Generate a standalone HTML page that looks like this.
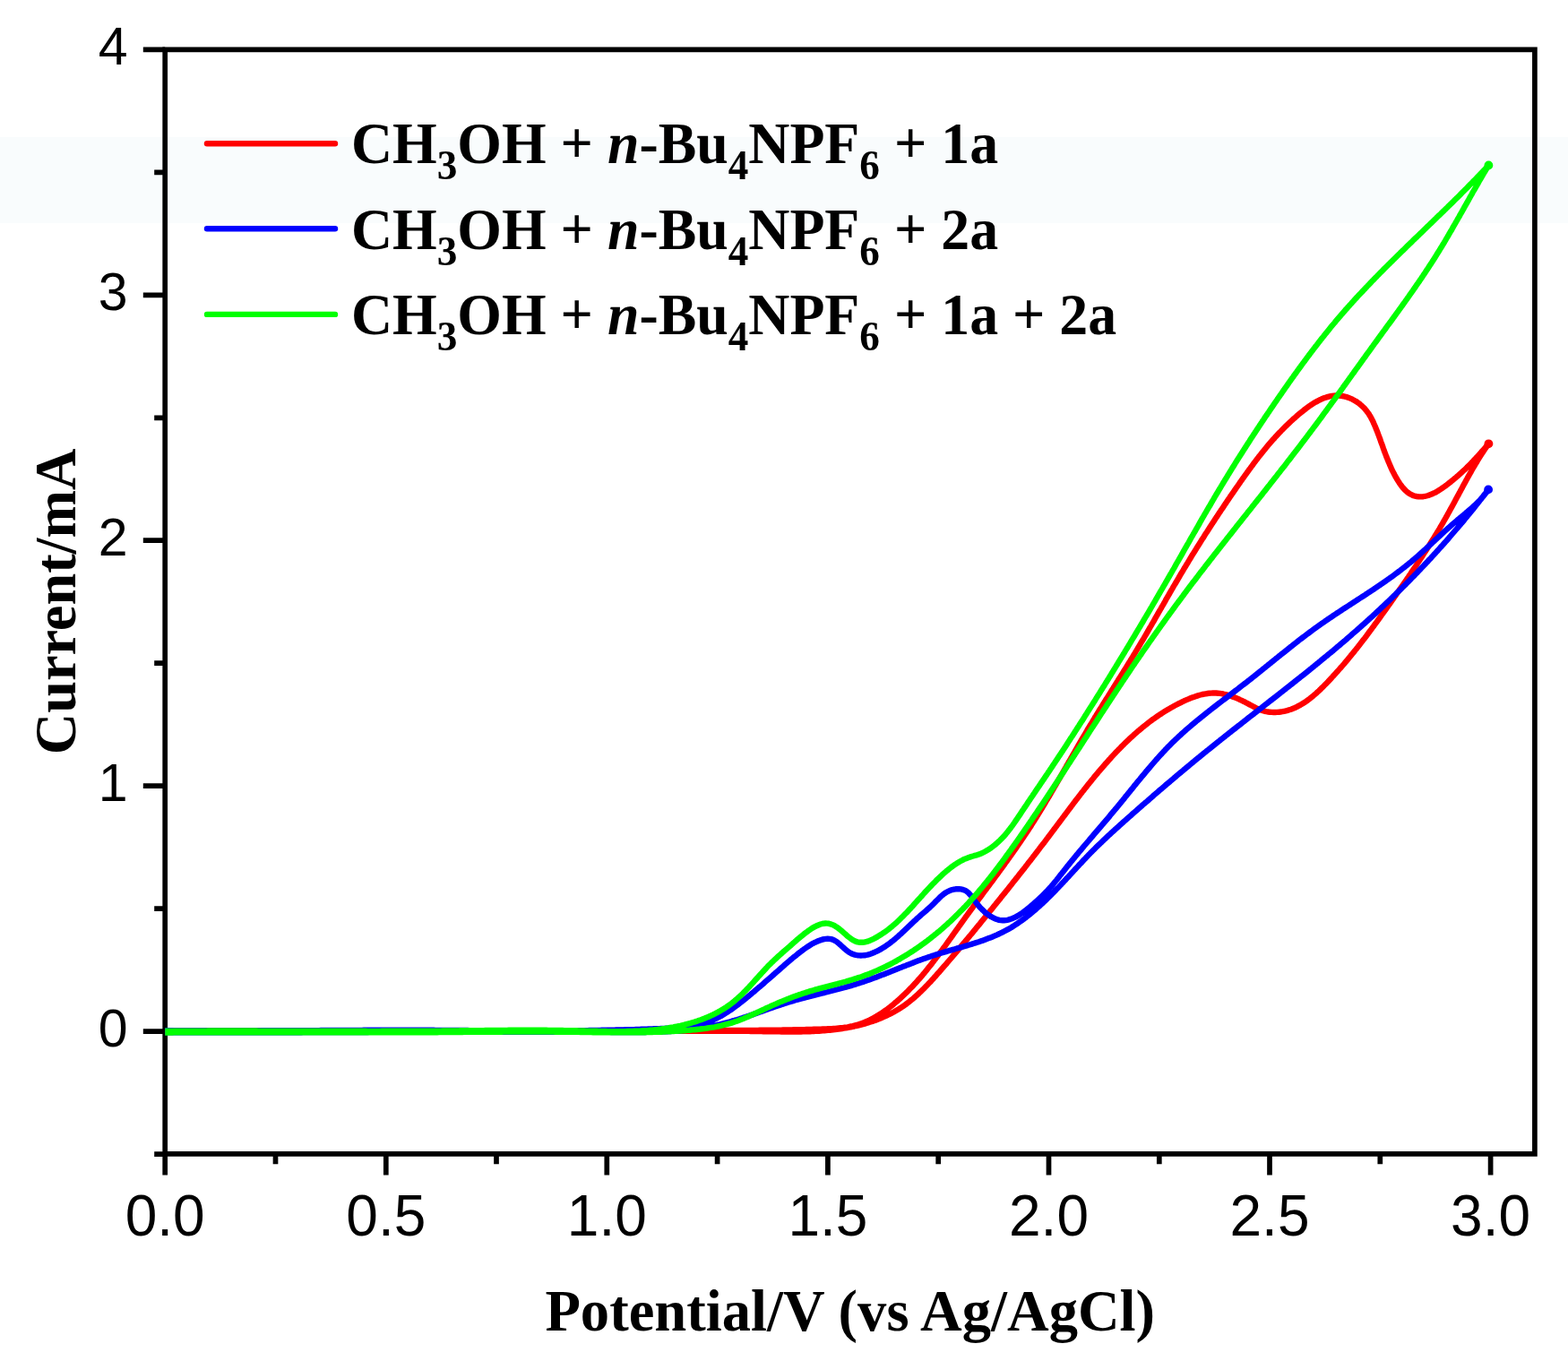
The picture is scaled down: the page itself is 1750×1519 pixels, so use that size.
<!DOCTYPE html>
<html><head><meta charset="utf-8"><style>
html,body{margin:0;padding:0;background:#fff;}
svg{display:block;}
.yl{font-family:"Liberation Sans",Arial,sans-serif;font-size:59px;text-anchor:end;fill:#000;}
.xl{font-family:"Liberation Sans",Arial,sans-serif;font-size:64px;text-anchor:middle;fill:#000;}
.lg{font-family:"Liberation Serif","Times New Roman",serif;font-size:65px;font-weight:bold;fill:#000;}
.sub{font-size:46px;}
.tt{font-family:"Liberation Serif","Times New Roman",serif;font-size:66px;font-weight:bold;fill:#000;}
</style></head><body>
<svg width="1750" height="1519" viewBox="0 0 1750 1519" xmlns="http://www.w3.org/2000/svg">
<rect width="1750" height="1519" fill="#ffffff"/>
<rect x="0" y="153" width="1750" height="96" fill="#f9fcfd"/>
<defs><clipPath id="pc"><rect x="184.2" y="0" width="1600" height="1519"/></clipPath></defs>
<path d="M184.2 55.3 H1712.9 V1287.8 H184.2 Z" fill="none" stroke="#000" stroke-width="5.7" stroke-linejoin="miter"/>
<path d="M184.2 1288.2H172.2M184.2 1151.2H159.8M184.2 1014.2H172.2M184.2 877.2H159.8M184.2 740.2H172.2M184.2 603.2H159.8M184.2 466.3H172.2M184.2 329.3H159.8M184.2 192.3H172.2M184.2 55.3H159.8M184.2 1287.8V1311.5M307.5 1287.8V1299.2M430.8 1287.8V1311.5M554.0 1287.8V1299.2M677.3 1287.8V1311.5M800.6 1287.8V1299.2M923.9 1287.8V1311.5M1047.2 1287.8V1299.2M1170.5 1287.8V1311.5M1293.8 1287.8V1299.2M1417.0 1287.8V1311.5M1540.3 1287.8V1299.2M1663.6 1287.8V1311.5" stroke="#000" stroke-width="5.7" fill="none"/>
<text x="142.5" y="1167.8" class="yl">0</text>
<text x="142.5" y="893.8" class="yl">1</text>
<text x="142.5" y="619.9" class="yl">2</text>
<text x="142.5" y="345.9" class="yl">3</text>
<text x="142.5" y="71.9" class="yl">4</text>
<text x="184.2" y="1378.6" class="xl">0.0</text>
<text x="430.8" y="1378.6" class="xl">0.5</text>
<text x="677.3" y="1378.6" class="xl">1.0</text>
<text x="923.9" y="1378.6" class="xl">1.5</text>
<text x="1170.5" y="1378.6" class="xl">2.0</text>
<text x="1417.0" y="1378.6" class="xl">2.5</text>
<text x="1663.6" y="1378.6" class="xl">3.0</text>
<path d="M184.2 1150.6 L186.2 1150.6 L188.2 1150.6 L190.2 1150.6 L192.2 1150.6 L194.2 1150.6 L196.2 1150.6 L198.2 1150.6 L200.2 1150.6 L202.2 1150.6 L204.2 1150.6 L206.2 1150.6 L208.2 1150.6 L210.2 1150.6 L212.2 1150.6 L214.2 1150.6 L216.2 1150.6 L218.2 1150.6 L220.2 1150.6 L222.2 1150.6 L224.2 1150.6 L226.2 1150.6 L228.2 1150.6 L230.2 1150.5 L232.2 1150.5 L234.2 1150.5 L236.2 1150.5 L238.2 1150.5 L240.2 1150.5 L242.2 1150.5 L244.2 1150.5 L246.2 1150.5 L248.2 1150.5 L250.2 1150.5 L252.2 1150.5 L254.2 1150.5 L256.2 1150.5 L258.2 1150.5 L260.2 1150.5 L262.2 1150.5 L264.2 1150.5 L266.2 1150.5 L268.2 1150.5 L270.2 1150.5 L272.2 1150.5 L274.2 1150.5 L276.2 1150.5 L278.2 1150.5 L280.2 1150.5 L282.2 1150.5 L284.2 1150.5 L286.2 1150.5 L288.2 1150.5 L290.2 1150.5 L292.2 1150.5 L294.2 1150.5 L296.2 1150.5 L298.2 1150.5 L300.2 1150.5 L302.2 1150.5 L304.2 1150.5 L306.2 1150.5 L308.2 1150.5 L310.2 1150.5 L312.2 1150.5 L314.2 1150.5 L316.2 1150.5 L318.2 1150.5 L320.2 1150.5 L322.2 1150.5 L324.2 1150.5 L326.2 1150.5 L328.2 1150.5 L330.2 1150.5 L332.2 1150.5 L334.2 1150.5 L336.2 1150.5 L338.2 1150.5 L340.2 1150.5 L342.2 1150.5 L344.2 1150.5 L346.2 1150.5 L348.2 1150.5 L350.2 1150.5 L352.2 1150.5 L354.2 1150.5 L356.1 1150.5 L358.1 1150.5 L360.1 1150.5 L362.1 1150.5 L364.1 1150.5 L366.1 1150.5 L368.1 1150.5 L370.1 1150.5 L372.1 1150.5 L374.1 1150.5 L376.1 1150.5 L378.1 1150.5 L380.1 1150.5 L382.1 1150.5 L384.1 1150.5 L386.1 1150.5 L388.1 1150.5 L390.1 1150.5 L392.1 1150.5 L394.1 1150.5 L396.1 1150.5 L398.1 1150.5 L400.1 1150.5 L402.1 1150.5 L404.1 1150.5 L406.1 1150.5 L408.1 1150.5 L410.1 1150.5 L412.1 1150.5 L414.1 1150.5 L416.1 1150.5 L418.1 1150.5 L420.1 1150.5 L422.1 1150.5 L424.1 1150.5 L426.1 1150.5 L428.1 1150.5 L430.1 1150.5 L432.1 1150.5 L434.1 1150.5 L436.1 1150.5 L438.1 1150.5 L440.1 1150.5 L442.1 1150.5 L444.1 1150.5 L446.1 1150.5 L448.1 1150.5 L450.1 1150.5 L452.1 1150.5 L454.1 1150.5 L456.1 1150.5 L458.1 1150.5 L460.1 1150.5 L462.1 1150.5 L464.1 1150.5 L466.1 1150.4 L468.1 1150.4 L470.1 1150.4 L472.1 1150.4 L474.1 1150.4 L476.1 1150.4 L478.1 1150.4 L480.1 1150.4 L482.1 1150.4 L484.1 1150.4 L486.1 1150.4 L488.1 1150.4 L490.1 1150.4 L492.1 1150.4 L494.1 1150.4 L496.1 1150.4 L498.1 1150.4 L500.1 1150.4 L502.1 1150.4 L504.1 1150.4 L506.1 1150.4 L508.1 1150.4 L510.1 1150.4 L512.1 1150.4 L514.1 1150.4 L516.1 1150.4 L518.1 1150.4 L520.1 1150.4 L522.1 1150.4 L524.1 1150.4 L526.1 1150.4 L528.1 1150.4 L530.1 1150.4 L532.1 1150.4 L534.1 1150.4 L536.1 1150.4 L538.1 1150.4 L540.1 1150.4 L542.1 1150.4 L544.1 1150.4 L546.1 1150.4 L548.1 1150.4 L550.1 1150.4 L552.1 1150.4 L554.1 1150.3 L556.1 1150.3 L558.1 1150.3 L560.1 1150.3 L562.1 1150.3 L564.1 1150.3 L566.1 1150.3 L568.1 1150.3 L570.1 1150.3 L572.1 1150.3 L574.1 1150.3 L576.1 1150.3 L578.1 1150.3 L580.1 1150.3 L582.1 1150.3 L584.1 1150.3 L586.1 1150.3 L588.1 1150.3 L590.1 1150.3 L592.1 1150.3 L594.1 1150.3 L596.1 1150.3 L598.1 1150.3 L600.1 1150.3 L602.1 1150.3 L604.1 1150.3 L606.1 1150.3 L608.1 1150.3 L610.1 1150.3 L612.1 1150.3 L614.1 1150.3 L616.1 1150.3 L618.1 1150.2 L620.1 1150.2 L622.1 1150.2 L624.1 1150.2 L626.1 1150.2 L628.1 1150.2 L630.1 1150.2 L632.1 1150.2 L634.1 1150.2 L636.1 1150.2 L638.1 1150.2 L640.1 1150.2 L642.1 1150.2 L644.1 1150.2 L646.1 1150.2 L648.1 1150.2 L650.1 1150.2 L652.1 1150.2 L654.1 1150.2 L656.1 1150.2 L658.1 1150.2 L660.1 1150.2 L662.1 1150.2 L664.1 1150.2 L666.1 1150.2 L668.1 1150.2 L670.1 1150.2 L672.1 1150.2 L674.1 1150.2 L676.1 1150.2 L678.1 1150.2 L680.1 1150.2 L682.1 1150.2 L684.1 1150.2 L686.1 1150.1 L688.1 1150.1 L690.1 1150.1 L692.1 1150.1 L694.1 1150.1 L696.1 1150.1 L698.1 1150.1 L700.1 1150.1 L702.1 1150.1 L704.1 1150.1 L706.1 1150.1 L708.1 1150.1 L710.1 1150.1 L712.1 1150.1 L714.1 1150.1 L716.1 1150.1 L718.1 1150.1 L720.1 1150.1 L722.1 1150.1 L724.1 1150.1 L726.1 1150.1 L728.1 1150.1 L730.1 1150.1 L732.1 1150.1 L734.1 1150.1 L736.1 1150.1 L738.1 1150.1 L740.1 1150.1 L742.1 1150.1 L744.1 1150.1 L746.0 1150.1 L748.0 1150.1 L750.0 1150.1 L752.0 1150.1 L754.0 1150.1 L756.0 1150.1 L758.0 1150.1 L760.0 1150.1 L762.0 1150.1 L764.0 1150.1 L766.0 1150.1 L768.0 1150.1 L770.0 1150.1 L772.0 1150.1 L774.0 1150.1 L776.0 1150.1 L778.0 1150.1 L780.0 1150.1 L782.0 1150.1 L784.0 1150.1 L786.0 1150.1 L788.0 1150.1 L790.0 1150.1 L792.0 1150.1 L794.0 1150.1 L796.0 1150.1 L798.0 1150.1 L800.0 1150.1 L802.0 1150.1 L804.0 1150.0 L806.0 1150.0 L808.0 1150.0 L809.9 1150.0 L811.9 1150.0 L813.9 1150.0 L815.9 1150.0 L817.9 1150.0 L819.9 1150.0 L821.9 1150.0 L823.9 1150.0 L825.9 1150.0 L827.9 1150.0 L829.9 1150.0 L831.9 1150.0 L833.9 1149.9 L835.9 1149.9 L837.9 1149.9 L839.9 1149.9 L841.9 1149.9 L843.9 1149.9 L845.9 1149.9 L847.9 1149.8 L849.9 1149.8 L851.9 1149.8 L853.9 1149.8 L855.9 1149.8 L857.9 1149.7 L859.9 1149.7 L861.9 1149.7 L863.9 1149.7 L865.9 1149.7 L867.9 1149.6 L869.9 1149.6 L871.9 1149.6 L874.0 1149.5 L876.0 1149.5 L878.0 1149.5 L880.0 1149.4 L882.0 1149.4 L884.0 1149.4 L886.0 1149.3 L888.0 1149.3 L890.0 1149.3 L892.0 1149.2 L894.0 1149.2 L896.0 1149.1 L898.0 1149.1 L900.0 1149.0 L902.0 1149.0 L904.1 1148.9 L906.1 1148.9 L908.1 1148.8 L910.1 1148.8 L912.1 1148.7 L914.1 1148.7 L916.1 1148.6 L918.1 1148.5 L920.2 1148.5 L922.2 1148.4 L924.2 1148.3 L926.2 1148.2 L928.2 1148.1 L930.2 1148.0 L932.2 1147.9 L934.2 1147.7 L936.2 1147.5 L938.1 1147.3 L940.1 1147.1 L942.1 1146.8 L944.0 1146.6 L946.0 1146.3 L947.9 1145.9 L949.9 1145.5 L951.8 1145.1 L953.7 1144.6 L955.6 1144.1 L957.5 1143.6 L959.3 1143.0 L961.2 1142.4 L963.0 1141.7 L964.9 1141.0 L966.7 1140.2 L968.5 1139.4 L970.3 1138.6 L972.1 1137.7 L973.8 1136.8 L975.6 1135.8 L977.3 1134.9 L979.0 1133.8 L980.7 1132.8 L982.4 1131.7 L984.1 1130.6 L985.8 1129.5 L987.4 1128.3 L989.1 1127.2 L990.7 1126.0 L992.3 1124.7 L993.9 1123.5 L995.5 1122.2 L997.1 1120.9 L998.6 1119.6 L1000.2 1118.3 L1001.7 1117.0 L1003.2 1115.7 L1004.7 1114.3 L1006.2 1112.9 L1007.6 1111.6 L1009.1 1110.2 L1010.5 1108.8 L1012.0 1107.4 L1013.4 1106.0 L1014.8 1104.5 L1016.2 1103.1 L1017.6 1101.7 L1019.0 1100.2 L1020.3 1098.8 L1021.7 1097.3 L1023.0 1095.8 L1024.3 1094.3 L1025.7 1092.8 L1027.0 1091.3 L1028.3 1089.8 L1029.6 1088.3 L1030.8 1086.8 L1032.1 1085.3 L1033.4 1083.7 L1034.6 1082.2 L1035.9 1080.6 L1037.1 1079.1 L1038.4 1077.5 L1039.6 1076.0 L1040.8 1074.4 L1042.0 1072.8 L1043.2 1071.2 L1044.4 1069.7 L1045.6 1068.1 L1046.8 1066.5 L1048.0 1064.9 L1049.2 1063.3 L1050.4 1061.7 L1051.6 1060.1 L1052.7 1058.5 L1053.9 1056.9 L1055.1 1055.3 L1056.2 1053.7 L1057.4 1052.0 L1058.6 1050.4 L1059.7 1048.8 L1060.9 1047.2 L1062.0 1045.6 L1063.2 1044.0 L1064.3 1042.3 L1065.5 1040.7 L1066.6 1039.1 L1067.8 1037.5 L1069.0 1035.8 L1070.1 1034.2 L1071.3 1032.6 L1072.4 1031.0 L1073.6 1029.4 L1074.7 1027.8 L1075.9 1026.2 L1077.1 1024.5 L1078.2 1022.9 L1079.4 1021.3 L1080.6 1019.7 L1081.7 1018.1 L1082.9 1016.5 L1084.1 1014.9 L1085.3 1013.3 L1086.4 1011.7 L1087.6 1010.1 L1088.8 1008.5 L1090.0 1006.9 L1091.1 1005.3 L1092.3 1003.7 L1093.5 1002.1 L1094.7 1000.5 L1095.9 998.9 L1097.0 997.3 L1098.2 995.7 L1099.4 994.1 L1100.6 992.5 L1101.8 990.9 L1103.0 989.3 L1104.1 987.8 L1105.3 986.2 L1106.5 984.6 L1107.7 983.0 L1108.9 981.4 L1110.0 979.8 L1111.2 978.2 L1112.4 976.6 L1113.6 975.0 L1114.7 973.4 L1115.9 971.8 L1117.1 970.2 L1118.2 968.6 L1119.4 967.0 L1120.6 965.4 L1121.7 963.7 L1122.9 962.1 L1124.1 960.5 L1125.2 958.9 L1126.4 957.3 L1127.5 955.7 L1128.7 954.1 L1129.8 952.4 L1131.0 950.8 L1132.1 949.2 L1133.2 947.6 L1134.4 945.9 L1135.5 944.3 L1136.6 942.7 L1137.8 941.0 L1138.9 939.4 L1140.0 937.8 L1141.1 936.1 L1142.2 934.5 L1143.3 932.8 L1144.4 931.2 L1145.5 929.5 L1146.6 927.9 L1147.7 926.2 L1148.8 924.5 L1149.9 922.9 L1151.0 921.2 L1152.0 919.5 L1153.1 917.8 L1154.2 916.2 L1155.2 914.5 L1156.3 912.8 L1157.3 911.1 L1158.4 909.4 L1159.4 907.7 L1160.5 906.0 L1161.5 904.3 L1162.6 902.6 L1163.6 900.9 L1164.6 899.2 L1165.7 897.5 L1166.7 895.8 L1167.7 894.0 L1168.7 892.3 L1169.7 890.6 L1170.8 888.9 L1171.8 887.2 L1172.8 885.4 L1173.8 883.7 L1174.8 882.0 L1175.8 880.3 L1176.8 878.5 L1177.8 876.8 L1178.8 875.1 L1179.8 873.3 L1180.8 871.6 L1181.8 869.9 L1182.8 868.1 L1183.8 866.4 L1184.8 864.7 L1185.8 862.9 L1186.8 861.2 L1187.8 859.4 L1188.8 857.7 L1189.8 856.0 L1190.7 854.2 L1191.7 852.5 L1192.7 850.7 L1193.7 849.0 L1194.7 847.3 L1195.7 845.5 L1196.7 843.8 L1197.7 842.0 L1198.7 840.3 L1199.7 838.6 L1200.7 836.8 L1201.7 835.1 L1202.7 833.4 L1203.7 831.6 L1204.7 829.9 L1205.7 828.2 L1206.7 826.4 L1207.7 824.7 L1208.7 823.0 L1209.8 821.2 L1210.8 819.5 L1211.8 817.8 L1212.8 816.1 L1213.8 814.3 L1214.9 812.6 L1215.9 810.9 L1216.9 809.2 L1218.0 807.5 L1219.0 805.8 L1220.0 804.1 L1221.1 802.4 L1222.1 800.6 L1223.2 798.9 L1224.2 797.2 L1225.3 795.5 L1226.3 793.8 L1227.4 792.1 L1228.4 790.4 L1229.5 788.7 L1230.5 787.0 L1231.6 785.3 L1232.6 783.6 L1233.7 781.9 L1234.7 780.2 L1235.8 778.6 L1236.9 776.9 L1237.9 775.2 L1239.0 773.5 L1240.0 771.8 L1241.1 770.1 L1242.2 768.4 L1243.2 766.7 L1244.3 765.0 L1245.4 763.3 L1246.4 761.6 L1247.5 759.9 L1248.5 758.2 L1249.6 756.5 L1250.7 754.9 L1251.7 753.2 L1252.8 751.5 L1253.8 749.8 L1254.9 748.1 L1255.9 746.4 L1257.0 744.7 L1258.0 743.0 L1259.1 741.3 L1260.1 739.6 L1261.2 737.9 L1262.2 736.2 L1263.3 734.5 L1264.3 732.8 L1265.3 731.1 L1266.4 729.4 L1267.4 727.7 L1268.4 726.0 L1269.4 724.3 L1270.5 722.5 L1271.5 720.8 L1272.5 719.1 L1273.5 717.4 L1274.5 715.7 L1275.6 714.0 L1276.6 712.3 L1277.6 710.5 L1278.6 708.8 L1279.6 707.1 L1280.6 705.4 L1281.6 703.6 L1282.6 701.9 L1283.6 700.2 L1284.6 698.5 L1285.6 696.7 L1286.6 695.0 L1287.6 693.3 L1288.6 691.6 L1289.5 689.8 L1290.5 688.1 L1291.5 686.4 L1292.5 684.6 L1293.5 682.9 L1294.5 681.2 L1295.5 679.5 L1296.5 677.7 L1297.5 676.0 L1298.5 674.3 L1299.5 672.5 L1300.5 670.8 L1301.4 669.1 L1302.4 667.3 L1303.4 665.6 L1304.4 663.9 L1305.4 662.1 L1306.4 660.4 L1307.4 658.7 L1308.4 657.0 L1309.4 655.2 L1310.4 653.5 L1311.4 651.8 L1312.5 650.0 L1313.5 648.3 L1314.5 646.6 L1315.5 644.9 L1316.5 643.1 L1317.5 641.4 L1318.5 639.7 L1319.6 638.0 L1320.6 636.3 L1321.6 634.5 L1322.7 632.8 L1323.7 631.1 L1324.7 629.4 L1325.8 627.7 L1326.8 626.0 L1327.8 624.3 L1328.9 622.5 L1329.9 620.8 L1331.0 619.1 L1332.0 617.4 L1333.1 615.7 L1334.2 614.0 L1335.2 612.3 L1336.3 610.6 L1337.3 608.9 L1338.4 607.2 L1339.5 605.5 L1340.5 603.8 L1341.6 602.1 L1342.7 600.4 L1343.8 598.7 L1344.8 597.0 L1345.9 595.3 L1347.0 593.7 L1348.1 592.0 L1349.2 590.3 L1350.3 588.6 L1351.3 586.9 L1352.4 585.2 L1353.5 583.6 L1354.6 581.9 L1355.7 580.2 L1356.8 578.5 L1357.9 576.9 L1359.0 575.2 L1360.1 573.5 L1361.2 571.9 L1362.3 570.2 L1363.5 568.5 L1364.6 566.9 L1365.7 565.2 L1366.8 563.5 L1367.9 561.9 L1369.0 560.2 L1370.1 558.6 L1371.3 556.9 L1372.4 555.3 L1373.5 553.6 L1374.6 552.0 L1375.8 550.3 L1376.9 548.7 L1378.0 547.1 L1379.2 545.4 L1380.3 543.8 L1381.4 542.2 L1382.6 540.5 L1383.7 538.9 L1384.8 537.3 L1386.0 535.6 L1387.1 534.0 L1388.3 532.4 L1389.4 530.8 L1390.6 529.2 L1391.7 527.6 L1392.9 526.0 L1394.0 524.4 L1395.2 522.8 L1396.4 521.2 L1397.6 519.6 L1398.7 518.0 L1399.9 516.4 L1401.1 514.8 L1402.3 513.2 L1403.5 511.7 L1404.7 510.1 L1406.0 508.5 L1407.2 507.0 L1408.4 505.4 L1409.7 503.9 L1410.9 502.3 L1412.2 500.8 L1413.4 499.3 L1414.7 497.7 L1416.0 496.2 L1417.3 494.7 L1418.6 493.2 L1419.9 491.7 L1421.2 490.2 L1422.6 488.7 L1423.9 487.2 L1425.3 485.7 L1426.6 484.3 L1428.0 482.8 L1429.4 481.4 L1430.8 479.9 L1432.2 478.5 L1433.7 477.0 L1435.1 475.6 L1436.6 474.2 L1438.0 472.8 L1439.5 471.4 L1441.0 470.0 L1442.5 468.6 L1444.0 467.2 L1445.6 465.9 L1447.1 464.5 L1448.7 463.1 L1450.3 461.8 L1451.9 460.5 L1453.5 459.2 L1455.1 457.9 L1456.8 456.6 L1458.5 455.3 L1460.1 454.1 L1461.8 452.9 L1463.5 451.8 L1465.3 450.6 L1467.0 449.6 L1468.7 448.6 L1470.5 447.6 L1472.3 446.7 L1474.0 445.8 L1475.8 445.0 L1477.6 444.3 L1479.4 443.7 L1481.3 443.1 L1483.1 442.6 L1485.0 442.2 L1486.8 441.9 L1488.7 441.6 L1490.5 441.5 L1492.4 441.5 L1494.3 441.5 L1496.2 441.7 L1498.1 442.0 L1500.0 442.4 L1501.9 442.8 L1503.8 443.4 L1505.7 444.1 L1507.6 444.9 L1509.4 445.7 L1511.2 446.7 L1513.0 447.7 L1514.7 448.8 L1516.4 450.0 L1518.0 451.3 L1519.5 452.6 L1521.0 454.0 L1522.5 455.4 L1523.8 456.9 L1525.1 458.5 L1526.3 460.1 L1527.5 461.7 L1528.5 463.4 L1529.6 465.1 L1530.5 466.9 L1531.5 468.7 L1532.4 470.5 L1533.2 472.4 L1534.0 474.2 L1534.8 476.1 L1535.6 478.0 L1536.3 479.8 L1537.1 481.7 L1537.8 483.6 L1538.5 485.5 L1539.2 487.3 L1539.9 489.2 L1540.6 491.1 L1541.2 493.0 L1541.9 494.9 L1542.6 496.7 L1543.3 498.6 L1543.9 500.5 L1544.6 502.4 L1545.3 504.3 L1546.0 506.1 L1546.7 508.0 L1547.4 509.9 L1548.2 511.7 L1548.9 513.6 L1549.7 515.5 L1550.5 517.3 L1551.3 519.2 L1552.1 521.1 L1552.9 522.9 L1553.8 524.8 L1554.7 526.6 L1555.7 528.5 L1556.6 530.3 L1557.6 532.1 L1558.7 534.0 L1559.8 535.8 L1560.9 537.6 L1562.0 539.3 L1563.2 541.0 L1564.5 542.7 L1565.7 544.3 L1567.1 545.8 L1568.4 547.2 L1569.8 548.5 L1571.3 549.7 L1572.8 550.8 L1574.4 551.7 L1576.0 552.5 L1577.7 553.2 L1579.4 553.7 L1581.1 554.1 L1582.9 554.3 L1584.7 554.4 L1586.5 554.4 L1588.4 554.2 L1590.3 553.9 L1592.1 553.5 L1594.0 553.0 L1595.9 552.3 L1597.8 551.6 L1599.6 550.7 L1601.5 549.8 L1603.4 548.8 L1605.2 547.7 L1607.0 546.6 L1608.8 545.4 L1610.6 544.1 L1612.4 542.9 L1614.2 541.6 L1615.9 540.2 L1617.6 538.9 L1619.3 537.6 L1620.9 536.3 L1622.5 534.9 L1624.1 533.6 L1625.6 532.3 L1627.2 531.0 L1628.7 529.7 L1630.1 528.3 L1631.6 527.0 L1633.0 525.7 L1634.5 524.4 L1635.9 523.0 L1637.3 521.7 L1638.6 520.3 L1640.0 518.9 L1641.4 517.5 L1642.7 516.1 L1644.1 514.7 L1645.4 513.3 L1646.7 511.9 L1648.0 510.4 L1649.4 509.0 L1650.7 507.5 L1652.0 506.0 L1653.3 504.5 L1654.7 503.0 L1656.0 501.5 L1657.3 500.0 L1658.7 498.4 L1660.0 496.9 L1661.4 495.3 L1660.3 496.9 L1659.1 498.5 L1658.0 500.2 L1656.9 501.8 L1655.8 503.5 L1654.7 505.1 L1653.6 506.8 L1652.6 508.4 L1651.5 510.1 L1650.4 511.8 L1649.4 513.5 L1648.4 515.2 L1647.3 516.9 L1646.3 518.6 L1645.3 520.3 L1644.3 522.0 L1643.3 523.7 L1642.3 525.4 L1641.4 527.2 L1640.4 528.9 L1639.4 530.6 L1638.4 532.4 L1637.5 534.1 L1636.5 535.8 L1635.6 537.6 L1634.6 539.3 L1633.6 541.1 L1632.7 542.8 L1631.8 544.6 L1630.8 546.3 L1629.9 548.1 L1628.9 549.8 L1628.0 551.6 L1627.0 553.4 L1626.1 555.1 L1625.1 556.9 L1624.2 558.6 L1623.3 560.4 L1622.3 562.1 L1621.4 563.9 L1620.4 565.6 L1619.4 567.4 L1618.5 569.1 L1617.5 570.9 L1616.5 572.6 L1615.6 574.4 L1614.6 576.1 L1613.6 577.9 L1612.6 579.6 L1611.6 581.3 L1610.6 583.1 L1609.6 584.8 L1608.6 586.5 L1607.6 588.2 L1606.6 590.0 L1605.6 591.7 L1604.5 593.4 L1603.5 595.1 L1602.5 596.8 L1601.4 598.5 L1600.4 600.2 L1599.3 601.9 L1598.3 603.6 L1597.2 605.3 L1596.1 607.0 L1595.1 608.7 L1594.0 610.4 L1592.9 612.1 L1591.9 613.8 L1590.8 615.4 L1589.7 617.1 L1588.6 618.8 L1587.5 620.5 L1586.4 622.2 L1585.3 623.8 L1584.2 625.5 L1583.1 627.2 L1582.0 628.8 L1580.9 630.5 L1579.8 632.2 L1578.7 633.8 L1577.6 635.5 L1576.4 637.1 L1575.3 638.8 L1574.2 640.5 L1573.1 642.1 L1572.0 643.8 L1570.8 645.4 L1569.7 647.1 L1568.6 648.7 L1567.4 650.4 L1566.3 652.0 L1565.2 653.6 L1564.0 655.3 L1562.9 656.9 L1561.7 658.6 L1560.6 660.2 L1559.4 661.8 L1558.3 663.5 L1557.2 665.1 L1556.0 666.7 L1554.9 668.4 L1553.7 670.0 L1552.6 671.6 L1551.4 673.3 L1550.3 674.9 L1549.1 676.5 L1548.0 678.1 L1546.8 679.8 L1545.7 681.4 L1544.5 683.0 L1543.4 684.6 L1542.2 686.2 L1541.0 687.9 L1539.9 689.5 L1538.7 691.1 L1537.6 692.7 L1536.4 694.3 L1535.2 695.9 L1534.0 697.5 L1532.9 699.1 L1531.7 700.7 L1530.5 702.3 L1529.3 703.9 L1528.1 705.5 L1526.9 707.1 L1525.8 708.7 L1524.6 710.3 L1523.4 711.9 L1522.1 713.5 L1520.9 715.0 L1519.7 716.6 L1518.5 718.2 L1517.3 719.8 L1516.1 721.3 L1514.8 722.9 L1513.6 724.5 L1512.3 726.0 L1511.1 727.6 L1509.8 729.1 L1508.6 730.7 L1507.3 732.2 L1506.0 733.8 L1504.8 735.3 L1503.5 736.9 L1502.2 738.4 L1500.9 739.9 L1499.6 741.5 L1498.3 743.0 L1497.0 744.5 L1495.6 746.0 L1494.3 747.5 L1493.0 749.0 L1491.6 750.5 L1490.3 752.1 L1488.9 753.5 L1487.5 755.0 L1486.2 756.5 L1484.8 758.0 L1483.4 759.5 L1482.0 761.0 L1480.6 762.4 L1479.1 763.9 L1477.7 765.4 L1476.3 766.8 L1474.8 768.2 L1473.4 769.7 L1471.9 771.1 L1470.4 772.4 L1468.9 773.8 L1467.4 775.1 L1465.9 776.4 L1464.3 777.7 L1462.7 779.0 L1461.2 780.2 L1459.6 781.4 L1458.0 782.6 L1456.3 783.7 L1454.7 784.7 L1453.0 785.8 L1451.3 786.8 L1449.6 787.7 L1447.9 788.6 L1446.2 789.5 L1444.4 790.3 L1442.6 791.0 L1440.8 791.7 L1438.9 792.3 L1437.1 792.9 L1435.2 793.4 L1433.3 793.8 L1431.3 794.2 L1429.3 794.5 L1427.4 794.8 L1425.4 794.9 L1423.3 795.0 L1421.3 795.0 L1419.3 794.9 L1417.3 794.8 L1415.3 794.5 L1413.4 794.2 L1411.4 793.8 L1409.5 793.2 L1407.7 792.6 L1405.8 791.9 L1404.0 791.1 L1402.2 790.3 L1400.4 789.4 L1398.7 788.5 L1396.9 787.5 L1395.1 786.6 L1393.3 785.6 L1391.5 784.7 L1389.7 783.7 L1387.9 782.8 L1386.0 781.9 L1384.2 781.1 L1382.3 780.2 L1380.5 779.4 L1378.6 778.6 L1376.7 777.9 L1374.8 777.2 L1372.9 776.6 L1371.0 776.0 L1369.0 775.4 L1367.1 775.0 L1365.2 774.5 L1363.3 774.2 L1361.3 773.9 L1359.4 773.7 L1357.4 773.5 L1355.5 773.5 L1353.6 773.5 L1351.6 773.6 L1349.7 773.7 L1347.7 774.0 L1345.8 774.3 L1343.9 774.6 L1341.9 775.0 L1340.0 775.5 L1338.1 776.0 L1336.2 776.6 L1334.3 777.2 L1332.3 777.9 L1330.5 778.6 L1328.6 779.3 L1326.7 780.1 L1324.8 780.9 L1323.0 781.7 L1321.1 782.5 L1319.3 783.4 L1317.5 784.3 L1315.7 785.2 L1313.9 786.1 L1312.1 787.0 L1310.3 788.0 L1308.6 789.0 L1306.8 789.9 L1305.1 790.9 L1303.3 792.0 L1301.6 793.0 L1299.9 794.0 L1298.2 795.1 L1296.6 796.2 L1294.9 797.3 L1293.2 798.4 L1291.6 799.5 L1290.0 800.6 L1288.3 801.8 L1286.7 802.9 L1285.1 804.1 L1283.5 805.3 L1281.9 806.5 L1280.4 807.7 L1278.8 809.0 L1277.2 810.2 L1275.7 811.4 L1274.2 812.7 L1272.6 814.0 L1271.1 815.3 L1269.6 816.5 L1268.1 817.9 L1266.6 819.2 L1265.1 820.5 L1263.7 821.8 L1262.2 823.2 L1260.7 824.5 L1259.3 825.9 L1257.8 827.3 L1256.4 828.7 L1255.0 830.0 L1253.6 831.4 L1252.2 832.8 L1250.8 834.3 L1249.4 835.7 L1248.0 837.1 L1246.6 838.6 L1245.2 840.0 L1243.9 841.4 L1242.5 842.9 L1241.1 844.4 L1239.8 845.8 L1238.5 847.3 L1237.1 848.8 L1235.8 850.3 L1234.5 851.8 L1233.1 853.3 L1231.8 854.8 L1230.5 856.3 L1229.2 857.8 L1227.9 859.3 L1226.6 860.8 L1225.4 862.3 L1224.1 863.9 L1222.8 865.4 L1221.5 866.9 L1220.3 868.5 L1219.0 870.0 L1217.8 871.6 L1216.5 873.1 L1215.3 874.7 L1214.0 876.2 L1212.8 877.8 L1211.5 879.3 L1210.3 880.9 L1209.1 882.5 L1207.8 884.0 L1206.6 885.6 L1205.4 887.2 L1204.2 888.8 L1202.9 890.4 L1201.7 891.9 L1200.5 893.5 L1199.3 895.1 L1198.1 896.7 L1196.9 898.3 L1195.7 899.9 L1194.5 901.5 L1193.3 903.1 L1192.1 904.7 L1190.9 906.3 L1189.7 907.9 L1188.5 909.5 L1187.3 911.1 L1186.1 912.7 L1184.9 914.3 L1183.7 915.9 L1182.5 917.5 L1181.3 919.1 L1180.1 920.7 L1178.9 922.3 L1177.7 923.9 L1176.5 925.5 L1175.3 927.1 L1174.1 928.7 L1172.9 930.3 L1171.7 931.9 L1170.5 933.5 L1169.3 935.1 L1168.1 936.7 L1166.9 938.3 L1165.7 939.9 L1164.5 941.4 L1163.3 943.0 L1162.0 944.6 L1160.8 946.2 L1159.6 947.8 L1158.4 949.4 L1157.2 951.0 L1156.0 952.6 L1154.7 954.2 L1153.5 955.7 L1152.3 957.3 L1151.1 958.9 L1149.9 960.5 L1148.6 962.1 L1147.4 963.6 L1146.2 965.2 L1144.9 966.8 L1143.7 968.4 L1142.5 969.9 L1141.2 971.5 L1140.0 973.1 L1138.8 974.7 L1137.5 976.2 L1136.3 977.8 L1135.1 979.4 L1133.8 980.9 L1132.6 982.5 L1131.3 984.1 L1130.1 985.6 L1128.9 987.2 L1127.6 988.8 L1126.4 990.3 L1125.1 991.9 L1123.9 993.4 L1122.6 995.0 L1121.4 996.6 L1120.1 998.1 L1118.9 999.7 L1117.6 1001.2 L1116.4 1002.8 L1115.1 1004.3 L1113.9 1005.9 L1112.6 1007.4 L1111.4 1009.0 L1110.1 1010.6 L1108.9 1012.1 L1107.6 1013.7 L1106.4 1015.2 L1105.1 1016.7 L1103.9 1018.3 L1102.6 1019.8 L1101.4 1021.4 L1100.1 1022.9 L1098.8 1024.5 L1097.6 1026.0 L1096.3 1027.6 L1095.1 1029.1 L1093.8 1030.7 L1092.6 1032.2 L1091.3 1033.7 L1090.0 1035.3 L1088.8 1036.8 L1087.5 1038.3 L1086.2 1039.9 L1085.0 1041.4 L1083.7 1043.0 L1082.4 1044.5 L1081.2 1046.0 L1079.9 1047.6 L1078.6 1049.1 L1077.3 1050.6 L1076.1 1052.2 L1074.8 1053.7 L1073.5 1055.2 L1072.2 1056.7 L1070.9 1058.3 L1069.7 1059.8 L1068.4 1061.3 L1067.1 1062.9 L1065.8 1064.4 L1064.5 1065.9 L1063.2 1067.4 L1061.9 1069.0 L1060.6 1070.5 L1059.3 1072.0 L1058.0 1073.5 L1056.7 1075.1 L1055.4 1076.6 L1054.0 1078.1 L1052.7 1079.6 L1051.4 1081.1 L1050.1 1082.7 L1048.8 1084.2 L1047.4 1085.7 L1046.1 1087.2 L1044.8 1088.7 L1043.4 1090.2 L1042.1 1091.7 L1040.7 1093.2 L1039.4 1094.7 L1038.0 1096.2 L1036.6 1097.6 L1035.2 1099.1 L1033.8 1100.6 L1032.4 1102.0 L1031.0 1103.4 L1029.6 1104.8 L1028.2 1106.2 L1026.7 1107.6 L1025.3 1109.0 L1023.8 1110.3 L1022.3 1111.7 L1020.8 1113.0 L1019.3 1114.3 L1017.8 1115.6 L1016.3 1116.8 L1014.7 1118.1 L1013.1 1119.3 L1011.6 1120.5 L1010.0 1121.6 L1008.3 1122.8 L1006.7 1123.9 L1005.0 1125.0 L1003.4 1126.0 L1001.7 1127.1 L1000.0 1128.1 L998.3 1129.1 L996.5 1130.0 L994.8 1131.0 L993.0 1131.9 L991.2 1132.7 L989.4 1133.6 L987.6 1134.4 L985.8 1135.2 L983.9 1136.0 L982.1 1136.8 L980.2 1137.5 L978.4 1138.2 L976.5 1138.9 L974.6 1139.6 L972.7 1140.2 L970.8 1140.8 L968.9 1141.4 L967.0 1142.0 L965.1 1142.6 L963.1 1143.1 L961.2 1143.6 L959.3 1144.1 L957.3 1144.6 L955.4 1145.0 L953.4 1145.5 L951.5 1145.9 L949.5 1146.3 L947.6 1146.7 L945.6 1147.0 L943.7 1147.4 L941.7 1147.7 L939.8 1148.0 L937.8 1148.3 L935.8 1148.6 L933.9 1148.8 L931.9 1149.1 L929.9 1149.3 L927.9 1149.5 L926.0 1149.7 L924.0 1149.9 L922.0 1150.1 L920.0 1150.3 L918.0 1150.4 L916.1 1150.6 L914.1 1150.7 L912.1 1150.8 L910.1 1150.9 L908.1 1151.0 L906.1 1151.1 L904.1 1151.2 L902.1 1151.3 L900.1 1151.3 L898.1 1151.4 L896.1 1151.4 L894.1 1151.5 L892.1 1151.5 L890.1 1151.5 L888.1 1151.5 L886.1 1151.5 L884.1 1151.5 L882.1 1151.5 L880.1 1151.5 L878.1 1151.5 L876.1 1151.5 L874.1 1151.5 L872.1 1151.5 L870.1 1151.4 L868.0 1151.4 L866.0 1151.4 L864.0 1151.3 L862.0 1151.3 L860.0 1151.3 L858.0 1151.3 L856.0 1151.2 L854.0 1151.2 L852.0 1151.2 L850.0 1151.1 L848.0 1151.1 L846.0 1151.1 L844.0 1151.0 L841.9 1151.0 L839.9 1151.0 L837.9 1151.0 L835.9 1150.9 L833.9 1150.9 L831.9 1150.9 L829.9 1150.9 L827.9 1150.9 L825.9 1150.9 L823.9 1150.8 L821.9 1150.8 L819.9 1150.8 L817.9 1150.8 L815.9 1150.8 L813.9 1150.8 L811.9 1150.8 L809.9 1150.8 L807.9 1150.8 L805.9 1150.8 L803.9 1150.8 L801.9 1150.8 L799.9 1150.8 L797.9 1150.8 L795.9 1150.8 L793.9 1150.8 L791.9 1150.8 L789.9 1150.8 L787.9 1150.8 L785.9 1150.8 L783.9 1150.8 L781.9 1150.8 L779.9 1150.8 L777.9 1150.8 L775.9 1150.8 L773.9 1150.8 L771.9 1150.8 L769.9 1150.8 L767.9 1150.8 L765.9 1150.8 L763.9 1150.8 L761.9 1150.8 L759.9 1150.8 L757.9 1150.9 L755.9 1150.9 L753.9 1150.9 L751.9 1150.9 L749.9 1150.9 L747.9 1150.9 L745.9 1150.9 L743.9 1150.9 L741.9 1150.9 L739.9 1150.9 L737.9 1151.0 L735.9 1151.0 L733.9 1151.0 L731.9 1151.0 L729.9 1151.0 L728.0 1151.0 L726.0 1151.0 L724.0 1151.0 L722.0 1151.0 L720.0 1151.1 L718.0 1151.1 L716.0 1151.1 L714.0 1151.1 L712.0 1151.1 L710.0 1151.1 L708.0 1151.1 L706.0 1151.1 L704.0 1151.1 L702.0 1151.1 L700.0 1151.2 L698.0 1151.2 L696.0 1151.2 L694.0 1151.2 L692.0 1151.2 L690.0 1151.2 L688.0 1151.2 L686.0 1151.2 L684.0 1151.2 L682.0 1151.2 L680.0 1151.2 L678.0 1151.2 L676.0 1151.2 L674.0 1151.3 L672.0 1151.3 L670.0 1151.3 L668.0 1151.3 L666.0 1151.3 L664.0 1151.3 L662.0 1151.3 L660.0 1151.3 L658.0 1151.3 L656.0 1151.3 L654.0 1151.3 L652.0 1151.3 L650.0 1151.3 L648.0 1151.3 L646.0 1151.3 L644.0 1151.4 L642.0 1151.4 L640.0 1151.4 L638.0 1151.4 L636.0 1151.4 L634.0 1151.4 L632.1 1151.4 L630.1 1151.4 L628.1 1151.4 L626.1 1151.4 L624.1 1151.4 L622.1 1151.4 L620.1 1151.4 L618.1 1151.4 L616.1 1151.4 L614.1 1151.4 L612.1 1151.4 L610.1 1151.4 L608.1 1151.4 L606.1 1151.4 L604.1 1151.5 L602.1 1151.5 L600.1 1151.5 L598.1 1151.5 L596.1 1151.5 L594.1 1151.5 L592.1 1151.5 L590.1 1151.5 L588.1 1151.5 L586.1 1151.5 L584.1 1151.5 L582.1 1151.5 L580.1 1151.5 L578.1 1151.5 L576.1 1151.5 L574.1 1151.5 L572.1 1151.5 L570.1 1151.5 L568.1 1151.5 L566.1 1151.5 L564.1 1151.5 L562.1 1151.5 L560.1 1151.5 L558.1 1151.5 L556.1 1151.5 L554.1 1151.5 L552.1 1151.5 L550.1 1151.5 L548.1 1151.5 L546.1 1151.5 L544.1 1151.5 L542.1 1151.5 L540.1 1151.5 L538.1 1151.5 L536.1 1151.5 L534.1 1151.5 L532.1 1151.5 L530.1 1151.5 L528.1 1151.5 L526.1 1151.6 L524.1 1151.6 L522.1 1151.6 L520.1 1151.6 L518.1 1151.6 L516.1 1151.6 L514.1 1151.6 L512.1 1151.6 L510.1 1151.6 L508.1 1151.6 L506.1 1151.6 L504.1 1151.6 L502.1 1151.6 L500.1 1151.6 L498.1 1151.6 L496.1 1151.6 L494.1 1151.6 L492.1 1151.6 L490.1 1151.6 L488.1 1151.6 L486.1 1151.6 L484.1 1151.6 L482.1 1151.6 L480.1 1151.6 L478.1 1151.6 L476.1 1151.6 L474.1 1151.6 L472.1 1151.6 L470.1 1151.6 L468.1 1151.6 L466.1 1151.6 L464.1 1151.6 L462.1 1151.6 L460.1 1151.6 L458.1 1151.6 L456.1 1151.6 L454.1 1151.6 L452.1 1151.6 L450.1 1151.6 L448.1 1151.6 L446.1 1151.6 L444.1 1151.6 L442.1 1151.6 L440.1 1151.6 L438.1 1151.6 L436.1 1151.6 L434.1 1151.6 L432.1 1151.6 L430.1 1151.6 L428.1 1151.6 L426.1 1151.6 L424.1 1151.6 L422.1 1151.6 L420.1 1151.6 L418.1 1151.6 L416.1 1151.6 L414.1 1151.6 L412.1 1151.6 L410.1 1151.6 L408.1 1151.6 L406.1 1151.6 L404.1 1151.6 L402.1 1151.6 L400.1 1151.6 L398.1 1151.6 L396.1 1151.6 L394.1 1151.6 L392.1 1151.6 L390.1 1151.6 L388.1 1151.6 L386.1 1151.6 L384.1 1151.6 L382.1 1151.6 L380.1 1151.6 L378.1 1151.6 L376.1 1151.6 L374.1 1151.6 L372.1 1151.6 L370.1 1151.6 L368.1 1151.6 L366.1 1151.6 L364.1 1151.6 L362.1 1151.6 L360.1 1151.6 L358.1 1151.6 L356.1 1151.6 L354.1 1151.6 L352.1 1151.6 L350.1 1151.6 L348.1 1151.6 L346.1 1151.6 L344.1 1151.6 L342.1 1151.6 L340.1 1151.6 L338.1 1151.6 L336.1 1151.6 L334.1 1151.6 L332.1 1151.6 L330.1 1151.6 L328.1 1151.6 L326.1 1151.6 L324.1 1151.6 L322.1 1151.6 L320.1 1151.6 L318.1 1151.6 L316.1 1151.6 L314.1 1151.6 L312.1 1151.6 L310.1 1151.6 L308.1 1151.6 L306.1 1151.6 L304.1 1151.6 L302.1 1151.6 L300.1 1151.6 L298.1 1151.6 L296.1 1151.6 L294.1 1151.6 L292.1 1151.6 L290.1 1151.6 L288.1 1151.6 L286.1 1151.6 L284.1 1151.6 L282.1 1151.6 L280.1 1151.6 L278.1 1151.6 L276.1 1151.6 L274.1 1151.6 L272.1 1151.6 L270.1 1151.6 L268.1 1151.6 L266.1 1151.6 L264.1 1151.6 L262.1 1151.6 L260.1 1151.6 L258.1 1151.6 L256.1 1151.7 L254.2 1151.7 L252.2 1151.7 L250.2 1151.7 L248.2 1151.7 L246.2 1151.7 L244.2 1151.7 L242.2 1151.7 L240.2 1151.7 L238.2 1151.7 L236.2 1151.7 L234.2 1151.7 L232.2 1151.7 L230.2 1151.7 L228.2 1151.7 L226.2 1151.7 L224.2 1151.7 L222.2 1151.7 L220.2 1151.7 L218.2 1151.7 L216.2 1151.7 L214.2 1151.7 L212.2 1151.7 L210.2 1151.7 L208.2 1151.7 L206.2 1151.7 L204.2 1151.7 L202.2 1151.8 L200.2 1151.8 L198.2 1151.8 L196.2 1151.8 L194.2 1151.8 L192.2 1151.8 L190.2 1151.8 L188.2 1151.8 L186.2 1151.8 L184.2 1151.8" fill="none" stroke="#ff0000" stroke-width="6.4" stroke-linecap="round" stroke-linejoin="round" clip-path="url(#pc)"/>
<circle cx="1661.4" cy="495.3" r="4.9" fill="#ff0000"/>
<path d="M184.2 1150.3 L186.2 1150.3 L188.2 1150.3 L190.2 1150.3 L192.2 1150.3 L194.2 1150.4 L196.2 1150.4 L198.2 1150.4 L200.2 1150.4 L202.2 1150.4 L204.2 1150.4 L206.2 1150.4 L208.2 1150.4 L210.2 1150.4 L212.2 1150.4 L214.2 1150.4 L216.2 1150.4 L218.2 1150.4 L220.2 1150.4 L222.2 1150.4 L224.1 1150.4 L226.1 1150.5 L228.1 1150.5 L230.1 1150.5 L232.1 1150.5 L234.1 1150.5 L236.1 1150.5 L238.1 1150.5 L240.1 1150.5 L242.1 1150.5 L244.1 1150.5 L246.1 1150.5 L248.1 1150.5 L250.1 1150.5 L252.1 1150.4 L254.1 1150.4 L256.1 1150.4 L258.1 1150.4 L260.1 1150.4 L262.1 1150.4 L264.1 1150.4 L266.1 1150.4 L268.1 1150.4 L270.1 1150.4 L272.1 1150.4 L274.1 1150.4 L276.1 1150.4 L278.1 1150.4 L280.1 1150.4 L282.1 1150.4 L284.1 1150.4 L286.1 1150.4 L288.1 1150.4 L290.1 1150.4 L292.1 1150.3 L294.1 1150.3 L296.1 1150.3 L298.1 1150.3 L300.1 1150.3 L302.1 1150.3 L304.1 1150.3 L306.1 1150.3 L308.1 1150.3 L310.1 1150.3 L312.1 1150.3 L314.1 1150.3 L316.1 1150.2 L318.1 1150.2 L320.1 1150.2 L322.1 1150.2 L324.1 1150.2 L326.1 1150.2 L328.1 1150.2 L330.1 1150.2 L332.1 1150.2 L334.1 1150.2 L336.1 1150.1 L338.1 1150.1 L340.1 1150.1 L342.1 1150.1 L344.1 1150.1 L346.1 1150.1 L348.1 1150.1 L350.1 1150.1 L352.1 1150.1 L354.1 1150.1 L356.1 1150.1 L358.1 1150.0 L360.1 1150.0 L362.1 1150.0 L364.0 1150.0 L366.0 1150.0 L368.0 1150.0 L370.0 1150.0 L372.0 1150.0 L374.0 1150.0 L376.0 1150.0 L378.0 1150.0 L380.0 1149.9 L382.0 1149.9 L384.0 1149.9 L386.0 1149.9 L388.0 1149.9 L390.0 1149.9 L392.0 1149.9 L394.0 1149.9 L396.0 1149.9 L398.0 1149.9 L400.0 1149.9 L402.0 1149.9 L404.0 1149.9 L406.0 1149.8 L408.0 1149.8 L410.0 1149.8 L412.0 1149.8 L414.0 1149.8 L416.0 1149.8 L418.0 1149.8 L420.0 1149.8 L422.0 1149.8 L424.0 1149.8 L426.0 1149.8 L428.0 1149.8 L430.0 1149.8 L432.0 1149.8 L434.0 1149.8 L436.0 1149.8 L438.0 1149.8 L440.0 1149.8 L442.0 1149.8 L444.0 1149.8 L446.0 1149.8 L448.0 1149.8 L450.0 1149.8 L452.0 1149.8 L454.0 1149.8 L456.0 1149.8 L458.0 1149.8 L460.0 1149.8 L462.0 1149.8 L464.0 1149.8 L466.0 1149.8 L468.0 1149.8 L470.0 1149.8 L472.0 1149.8 L474.0 1149.8 L476.0 1149.8 L478.0 1149.8 L480.0 1149.8 L482.0 1149.8 L484.0 1149.8 L485.9 1149.9 L487.9 1149.9 L489.9 1149.9 L491.9 1149.9 L493.9 1149.9 L495.9 1149.9 L497.9 1149.9 L499.9 1149.9 L501.9 1149.9 L503.9 1149.9 L505.9 1150.0 L507.9 1150.0 L509.9 1150.0 L511.9 1150.0 L513.9 1150.0 L515.9 1150.0 L517.9 1150.0 L519.9 1150.0 L521.9 1150.0 L523.9 1150.1 L525.9 1150.1 L527.9 1150.1 L529.9 1150.1 L531.9 1150.1 L533.9 1150.1 L535.9 1150.1 L537.9 1150.1 L539.9 1150.1 L541.9 1150.2 L543.9 1150.2 L545.9 1150.2 L547.9 1150.2 L549.9 1150.2 L551.9 1150.2 L553.9 1150.2 L555.9 1150.2 L557.9 1150.2 L559.8 1150.2 L561.8 1150.3 L563.8 1150.3 L565.8 1150.3 L567.8 1150.3 L569.8 1150.3 L571.8 1150.3 L573.8 1150.3 L575.8 1150.3 L577.8 1150.3 L579.8 1150.3 L581.8 1150.3 L583.8 1150.3 L585.8 1150.3 L587.8 1150.3 L589.8 1150.3 L591.8 1150.4 L593.8 1150.4 L595.8 1150.4 L597.8 1150.4 L599.8 1150.4 L601.8 1150.4 L603.8 1150.4 L605.8 1150.4 L607.8 1150.4 L609.8 1150.4 L611.8 1150.3 L613.8 1150.3 L615.8 1150.3 L617.8 1150.3 L619.8 1150.3 L621.8 1150.3 L623.8 1150.3 L625.8 1150.3 L627.8 1150.3 L629.8 1150.3 L631.8 1150.3 L633.8 1150.3 L635.8 1150.2 L637.8 1150.2 L639.8 1150.2 L641.8 1150.2 L643.8 1150.2 L645.8 1150.2 L647.8 1150.2 L649.8 1150.1 L651.8 1150.1 L653.8 1150.1 L655.8 1150.1 L657.7 1150.0 L659.7 1150.0 L661.7 1150.0 L663.7 1150.0 L665.7 1149.9 L667.7 1149.9 L669.7 1149.9 L671.7 1149.8 L673.7 1149.8 L675.7 1149.8 L677.7 1149.7 L679.7 1149.7 L681.7 1149.7 L683.7 1149.6 L685.7 1149.6 L687.7 1149.5 L689.7 1149.5 L691.7 1149.5 L693.7 1149.4 L695.7 1149.4 L697.7 1149.3 L699.7 1149.3 L701.7 1149.2 L703.7 1149.2 L705.7 1149.1 L707.7 1149.1 L709.7 1149.0 L711.8 1148.9 L713.8 1148.9 L715.8 1148.8 L717.8 1148.8 L719.8 1148.7 L721.8 1148.6 L723.8 1148.5 L725.8 1148.5 L727.8 1148.4 L729.8 1148.3 L731.8 1148.3 L733.8 1148.2 L735.8 1148.1 L737.8 1148.0 L739.8 1147.9 L741.8 1147.9 L743.8 1147.8 L745.8 1147.7 L747.8 1147.6 L749.8 1147.5 L751.8 1147.4 L753.8 1147.2 L755.8 1147.1 L757.7 1146.9 L759.7 1146.8 L761.7 1146.6 L763.7 1146.4 L765.7 1146.1 L767.6 1145.9 L769.6 1145.6 L771.5 1145.3 L773.5 1145.0 L775.4 1144.6 L777.3 1144.2 L779.2 1143.8 L781.1 1143.3 L783.0 1142.9 L784.9 1142.3 L786.8 1141.8 L788.7 1141.1 L790.5 1140.5 L792.4 1139.8 L794.2 1139.1 L796.0 1138.3 L797.8 1137.4 L799.6 1136.6 L801.4 1135.7 L803.2 1134.7 L805.0 1133.8 L806.7 1132.7 L808.4 1131.7 L810.2 1130.6 L811.9 1129.5 L813.6 1128.4 L815.3 1127.3 L817.0 1126.1 L818.6 1124.9 L820.3 1123.7 L821.9 1122.5 L823.6 1121.3 L825.2 1120.0 L826.8 1118.8 L828.4 1117.5 L830.0 1116.2 L831.6 1114.9 L833.2 1113.7 L834.7 1112.4 L836.3 1111.1 L837.8 1109.8 L839.3 1108.5 L840.9 1107.3 L842.4 1106.0 L843.9 1104.7 L845.4 1103.4 L846.9 1102.1 L848.4 1100.9 L849.9 1099.6 L851.4 1098.3 L852.9 1097.0 L854.3 1095.7 L855.8 1094.4 L857.3 1093.1 L858.8 1091.8 L860.2 1090.6 L861.7 1089.3 L863.2 1088.0 L864.7 1086.7 L866.1 1085.4 L867.6 1084.1 L869.1 1082.8 L870.6 1081.5 L872.1 1080.2 L873.6 1078.9 L875.1 1077.5 L876.6 1076.2 L878.1 1074.9 L879.6 1073.6 L881.1 1072.3 L882.6 1071.0 L884.2 1069.7 L885.7 1068.4 L887.3 1067.2 L888.9 1065.9 L890.4 1064.6 L892.0 1063.4 L893.6 1062.2 L895.3 1060.9 L896.9 1059.7 L898.6 1058.5 L900.2 1057.4 L901.9 1056.3 L903.6 1055.2 L905.4 1054.1 L907.1 1053.1 L908.9 1052.2 L910.7 1051.3 L912.5 1050.5 L914.4 1049.7 L916.3 1049.1 L918.1 1048.5 L920.0 1048.1 L921.9 1047.9 L923.8 1047.8 L925.7 1047.9 L927.5 1048.2 L929.3 1048.7 L931.1 1049.5 L932.9 1050.5 L934.6 1051.7 L936.3 1053.1 L937.9 1054.5 L939.6 1056.1 L941.3 1057.6 L942.9 1059.1 L944.6 1060.5 L946.3 1061.9 L948.0 1063.0 L949.8 1064.0 L951.5 1064.8 L953.3 1065.4 L955.2 1065.9 L957.0 1066.2 L958.9 1066.4 L960.7 1066.5 L962.6 1066.4 L964.5 1066.3 L966.4 1066.0 L968.2 1065.6 L970.1 1065.1 L972.0 1064.5 L973.8 1063.8 L975.7 1063.0 L977.5 1062.2 L979.3 1061.3 L981.1 1060.4 L982.9 1059.4 L984.7 1058.3 L986.4 1057.3 L988.1 1056.2 L989.7 1055.0 L991.4 1053.9 L993.0 1052.7 L994.6 1051.4 L996.2 1050.2 L997.7 1049.0 L999.3 1047.7 L1000.8 1046.4 L1002.3 1045.1 L1003.8 1043.7 L1005.3 1042.4 L1006.7 1041.0 L1008.2 1039.7 L1009.6 1038.3 L1011.1 1036.9 L1012.5 1035.6 L1014.0 1034.2 L1015.4 1032.8 L1016.9 1031.4 L1018.3 1030.1 L1019.7 1028.7 L1021.2 1027.3 L1022.7 1026.0 L1024.1 1024.6 L1025.6 1023.3 L1027.1 1022.0 L1028.6 1020.7 L1030.1 1019.4 L1031.6 1018.1 L1033.1 1016.8 L1034.6 1015.5 L1036.1 1014.2 L1037.6 1012.8 L1039.0 1011.5 L1040.5 1010.1 L1041.9 1008.7 L1043.3 1007.3 L1044.7 1005.8 L1046.1 1004.4 L1047.6 1002.9 L1049.0 1001.5 L1050.5 1000.2 L1052.0 998.9 L1053.6 997.6 L1055.2 996.5 L1056.9 995.5 L1058.7 994.6 L1060.6 993.8 L1062.6 993.1 L1064.6 992.7 L1066.6 992.3 L1068.6 992.2 L1070.6 992.2 L1072.5 992.4 L1074.4 992.8 L1076.1 993.4 L1077.8 994.2 L1079.3 995.2 L1080.7 996.3 L1082.0 997.7 L1083.3 999.1 L1084.5 1000.7 L1085.7 1002.3 L1086.9 1004.0 L1088.1 1005.7 L1089.4 1007.4 L1090.7 1009.1 L1092.1 1010.7 L1093.5 1012.4 L1095.0 1013.9 L1096.5 1015.5 L1098.1 1016.9 L1099.6 1018.4 L1101.3 1019.7 L1102.9 1020.9 L1104.6 1022.1 L1106.3 1023.2 L1108.1 1024.1 L1109.8 1025.0 L1111.6 1025.7 L1113.4 1026.3 L1115.2 1026.8 L1117.0 1027.1 L1118.8 1027.2 L1120.6 1027.3 L1122.4 1027.1 L1124.2 1026.8 L1126.0 1026.4 L1127.8 1025.8 L1129.7 1025.2 L1131.4 1024.4 L1133.2 1023.6 L1135.0 1022.6 L1136.8 1021.6 L1138.5 1020.5 L1140.3 1019.3 L1142.0 1018.1 L1143.7 1016.8 L1145.4 1015.5 L1147.0 1014.2 L1148.6 1012.9 L1150.3 1011.5 L1151.8 1010.2 L1153.4 1008.8 L1154.9 1007.5 L1156.4 1006.2 L1157.9 1004.8 L1159.4 1003.5 L1160.8 1002.1 L1162.2 1000.8 L1163.6 999.4 L1165.0 998.0 L1166.4 996.7 L1167.7 995.3 L1169.1 993.9 L1170.4 992.4 L1171.7 991.0 L1173.0 989.6 L1174.3 988.1 L1175.6 986.6 L1176.8 985.1 L1178.1 983.5 L1179.4 982.0 L1180.6 980.4 L1181.9 978.8 L1183.1 977.2 L1184.4 975.7 L1185.6 974.1 L1186.9 972.5 L1188.1 970.9 L1189.4 969.3 L1190.6 967.7 L1191.9 966.1 L1193.2 964.6 L1194.4 963.0 L1195.7 961.4 L1197.0 959.9 L1198.2 958.3 L1199.5 956.8 L1200.8 955.2 L1202.1 953.7 L1203.3 952.2 L1204.6 950.6 L1205.9 949.1 L1207.2 947.6 L1208.5 946.0 L1209.7 944.5 L1211.0 943.0 L1212.3 941.5 L1213.6 940.0 L1214.9 938.5 L1216.2 936.9 L1217.5 935.4 L1218.8 933.9 L1220.0 932.4 L1221.3 930.9 L1222.6 929.4 L1223.9 927.9 L1225.2 926.4 L1226.5 924.9 L1227.8 923.4 L1229.1 921.9 L1230.3 920.3 L1231.6 918.8 L1232.9 917.3 L1234.2 915.8 L1235.5 914.3 L1236.8 912.8 L1238.1 911.3 L1239.3 909.7 L1240.6 908.2 L1241.9 906.7 L1243.2 905.2 L1244.4 903.6 L1245.7 902.1 L1247.0 900.6 L1248.3 899.0 L1249.5 897.5 L1250.8 895.9 L1252.1 894.4 L1253.3 892.8 L1254.6 891.3 L1255.8 889.7 L1257.1 888.2 L1258.4 886.6 L1259.6 885.1 L1260.9 883.5 L1262.1 881.9 L1263.4 880.4 L1264.7 878.8 L1265.9 877.2 L1267.2 875.7 L1268.5 874.1 L1269.7 872.6 L1271.0 871.0 L1272.3 869.5 L1273.5 867.9 L1274.8 866.3 L1276.1 864.8 L1277.4 863.3 L1278.7 861.7 L1280.0 860.2 L1281.3 858.6 L1282.6 857.1 L1283.9 855.6 L1285.2 854.0 L1286.5 852.5 L1287.8 851.0 L1289.1 849.5 L1290.4 848.0 L1291.8 846.5 L1293.1 845.0 L1294.4 843.5 L1295.8 842.1 L1297.1 840.6 L1298.5 839.1 L1299.9 837.7 L1301.2 836.2 L1302.6 834.8 L1304.0 833.3 L1305.4 831.9 L1306.8 830.5 L1308.2 829.1 L1309.6 827.7 L1311.1 826.3 L1312.5 824.9 L1314.0 823.6 L1315.4 822.2 L1316.9 820.9 L1318.3 819.5 L1319.8 818.2 L1321.3 816.9 L1322.8 815.5 L1324.3 814.2 L1325.8 812.9 L1327.3 811.6 L1328.8 810.3 L1330.3 809.0 L1331.8 807.8 L1333.3 806.5 L1334.9 805.2 L1336.4 803.9 L1337.9 802.7 L1339.5 801.4 L1341.0 800.2 L1342.6 798.9 L1344.1 797.7 L1345.7 796.4 L1347.2 795.2 L1348.8 794.0 L1350.4 792.7 L1352.0 791.5 L1353.5 790.3 L1355.1 789.1 L1356.7 787.9 L1358.3 786.6 L1359.8 785.4 L1361.4 784.2 L1363.0 783.0 L1364.6 781.8 L1366.2 780.6 L1367.8 779.4 L1369.4 778.2 L1370.9 777.0 L1372.5 775.7 L1374.1 774.5 L1375.7 773.3 L1377.3 772.1 L1378.9 770.9 L1380.5 769.7 L1382.1 768.5 L1383.6 767.3 L1385.2 766.0 L1386.8 764.8 L1388.4 763.6 L1390.0 762.4 L1391.5 761.2 L1393.1 759.9 L1394.7 758.7 L1396.3 757.4 L1397.8 756.2 L1399.4 755.0 L1401.0 753.7 L1402.5 752.5 L1404.1 751.2 L1405.6 750.0 L1407.2 748.7 L1408.8 747.5 L1410.3 746.2 L1411.9 745.0 L1413.4 743.7 L1415.0 742.5 L1416.5 741.2 L1418.1 740.0 L1419.6 738.7 L1421.2 737.4 L1422.8 736.2 L1424.3 734.9 L1425.9 733.7 L1427.4 732.4 L1429.0 731.2 L1430.5 729.9 L1432.1 728.7 L1433.7 727.4 L1435.2 726.2 L1436.8 724.9 L1438.3 723.7 L1439.9 722.4 L1441.5 721.2 L1443.0 720.0 L1444.6 718.7 L1446.2 717.5 L1447.8 716.3 L1449.3 715.0 L1450.9 713.8 L1452.5 712.6 L1454.1 711.4 L1455.7 710.2 L1457.3 709.0 L1458.9 707.8 L1460.5 706.6 L1462.1 705.4 L1463.7 704.2 L1465.3 703.0 L1466.9 701.8 L1468.5 700.7 L1470.1 699.5 L1471.8 698.3 L1473.4 697.2 L1475.0 696.0 L1476.7 694.9 L1478.3 693.8 L1479.9 692.6 L1481.6 691.5 L1483.2 690.4 L1484.9 689.3 L1486.6 688.1 L1488.2 687.0 L1489.9 685.9 L1491.5 684.8 L1493.2 683.7 L1494.9 682.6 L1496.6 681.5 L1498.2 680.4 L1499.9 679.3 L1501.6 678.2 L1503.3 677.1 L1504.9 676.1 L1506.6 675.0 L1508.3 673.9 L1510.0 672.8 L1511.6 671.7 L1513.3 670.6 L1515.0 669.5 L1516.7 668.4 L1518.3 667.4 L1520.0 666.3 L1521.7 665.2 L1523.4 664.1 L1525.0 663.0 L1526.7 661.9 L1528.4 660.8 L1530.0 659.7 L1531.7 658.6 L1533.4 657.5 L1535.0 656.4 L1536.7 655.3 L1538.3 654.1 L1540.0 653.0 L1541.6 651.9 L1543.3 650.8 L1544.9 649.6 L1546.6 648.5 L1548.2 647.3 L1549.8 646.2 L1551.4 645.0 L1553.1 643.9 L1554.7 642.7 L1556.3 641.5 L1557.9 640.3 L1559.5 639.1 L1561.1 637.9 L1562.7 636.7 L1564.2 635.5 L1565.8 634.3 L1567.4 633.1 L1568.9 631.8 L1570.5 630.6 L1572.0 629.3 L1573.6 628.1 L1575.1 626.8 L1576.6 625.5 L1578.2 624.2 L1579.7 622.9 L1581.2 621.6 L1582.7 620.3 L1584.2 619.0 L1585.7 617.6 L1587.1 616.3 L1588.6 615.0 L1590.1 613.6 L1591.6 612.3 L1593.1 610.9 L1594.5 609.6 L1596.0 608.2 L1597.5 606.8 L1598.9 605.5 L1600.4 604.1 L1601.9 602.7 L1603.3 601.4 L1604.8 600.0 L1606.3 598.7 L1607.7 597.3 L1609.2 595.9 L1610.7 594.6 L1612.1 593.2 L1613.6 591.9 L1615.1 590.5 L1616.6 589.2 L1618.1 587.9 L1619.6 586.5 L1621.1 585.2 L1622.6 583.9 L1624.1 582.6 L1625.6 581.3 L1627.1 580.0 L1628.7 578.7 L1630.2 577.4 L1631.7 576.2 L1633.3 574.9 L1634.8 573.6 L1636.3 572.3 L1637.9 571.0 L1639.4 569.7 L1640.9 568.4 L1642.4 567.1 L1643.8 565.8 L1645.3 564.4 L1646.8 563.1 L1648.2 561.7 L1649.6 560.3 L1651.0 558.9 L1652.4 557.4 L1653.7 555.9 L1655.0 554.4 L1656.3 552.9 L1657.5 551.3 L1658.8 549.7 L1659.9 548.1 L1661.1 546.4 L1659.9 548.0 L1658.7 549.6 L1657.5 551.2 L1656.2 552.7 L1655.0 554.3 L1653.8 555.9 L1652.6 557.5 L1651.3 559.0 L1650.1 560.6 L1648.9 562.2 L1647.6 563.7 L1646.4 565.3 L1645.1 566.9 L1643.9 568.4 L1642.6 570.0 L1641.4 571.5 L1640.1 573.1 L1638.8 574.6 L1637.6 576.2 L1636.3 577.7 L1635.0 579.2 L1633.8 580.8 L1632.5 582.3 L1631.2 583.8 L1629.9 585.4 L1628.6 586.9 L1627.3 588.4 L1626.0 590.0 L1624.7 591.5 L1623.4 593.0 L1622.1 594.5 L1620.8 596.0 L1619.5 597.5 L1618.2 599.0 L1616.9 600.6 L1615.6 602.1 L1614.3 603.6 L1612.9 605.1 L1611.6 606.6 L1610.3 608.1 L1609.0 609.5 L1607.6 611.0 L1606.3 612.5 L1605.0 614.0 L1603.6 615.5 L1602.3 617.0 L1600.9 618.4 L1599.6 619.9 L1598.2 621.4 L1596.9 622.9 L1595.5 624.3 L1594.1 625.8 L1592.8 627.3 L1591.4 628.7 L1590.0 630.2 L1588.7 631.6 L1587.3 633.1 L1585.9 634.5 L1584.5 636.0 L1583.1 637.4 L1581.8 638.9 L1580.4 640.3 L1579.0 641.7 L1577.6 643.2 L1576.2 644.6 L1574.8 646.0 L1573.4 647.5 L1572.0 648.9 L1570.6 650.3 L1569.2 651.7 L1567.8 653.2 L1566.3 654.6 L1564.9 656.0 L1563.5 657.4 L1562.1 658.8 L1560.7 660.2 L1559.2 661.6 L1557.8 663.0 L1556.4 664.4 L1554.9 665.8 L1553.5 667.2 L1552.1 668.6 L1550.6 670.0 L1549.2 671.4 L1547.7 672.7 L1546.3 674.1 L1544.8 675.5 L1543.4 676.9 L1541.9 678.2 L1540.5 679.6 L1539.0 681.0 L1537.5 682.3 L1536.1 683.7 L1534.6 685.1 L1533.1 686.4 L1531.7 687.8 L1530.2 689.1 L1528.7 690.5 L1527.2 691.8 L1525.8 693.1 L1524.3 694.5 L1522.8 695.8 L1521.3 697.2 L1519.8 698.5 L1518.3 699.8 L1516.8 701.2 L1515.3 702.5 L1513.8 703.8 L1512.3 705.1 L1510.8 706.4 L1509.3 707.7 L1507.8 709.1 L1506.3 710.4 L1504.8 711.7 L1503.3 713.0 L1501.8 714.3 L1500.3 715.6 L1498.7 716.9 L1497.2 718.2 L1495.7 719.5 L1494.2 720.8 L1492.6 722.0 L1491.1 723.3 L1489.6 724.6 L1488.1 725.9 L1486.5 727.2 L1485.0 728.5 L1483.4 729.7 L1481.9 731.0 L1480.4 732.3 L1478.8 733.5 L1477.3 734.8 L1475.7 736.1 L1474.2 737.3 L1472.7 738.6 L1471.1 739.9 L1469.6 741.1 L1468.0 742.4 L1466.5 743.7 L1464.9 744.9 L1463.4 746.2 L1461.8 747.4 L1460.2 748.7 L1458.7 749.9 L1457.1 751.2 L1455.6 752.4 L1454.0 753.7 L1452.4 754.9 L1450.9 756.2 L1449.3 757.4 L1447.8 758.6 L1446.2 759.9 L1444.6 761.1 L1443.1 762.4 L1441.5 763.6 L1439.9 764.8 L1438.4 766.1 L1436.8 767.3 L1435.2 768.5 L1433.7 769.8 L1432.1 771.0 L1430.5 772.3 L1428.9 773.5 L1427.4 774.7 L1425.8 775.9 L1424.2 777.2 L1422.7 778.4 L1421.1 779.6 L1419.5 780.9 L1417.9 782.1 L1416.4 783.3 L1414.8 784.6 L1413.2 785.8 L1411.6 787.0 L1410.1 788.2 L1408.5 789.5 L1406.9 790.7 L1405.3 791.9 L1403.8 793.2 L1402.2 794.4 L1400.6 795.6 L1399.0 796.9 L1397.5 798.1 L1395.9 799.3 L1394.3 800.5 L1392.7 801.8 L1391.2 803.0 L1389.6 804.2 L1388.0 805.5 L1386.4 806.7 L1384.9 807.9 L1383.3 809.2 L1381.7 810.4 L1380.2 811.6 L1378.6 812.9 L1377.0 814.1 L1375.5 815.3 L1373.9 816.6 L1372.3 817.8 L1370.8 819.0 L1369.2 820.3 L1367.6 821.5 L1366.1 822.8 L1364.5 824.0 L1362.9 825.2 L1361.4 826.5 L1359.8 827.7 L1358.2 829.0 L1356.7 830.2 L1355.1 831.5 L1353.6 832.7 L1352.0 834.0 L1350.5 835.2 L1348.9 836.5 L1347.3 837.7 L1345.8 839.0 L1344.2 840.2 L1342.7 841.5 L1341.1 842.8 L1339.6 844.0 L1338.1 845.3 L1336.5 846.6 L1335.0 847.8 L1333.4 849.1 L1331.9 850.4 L1330.3 851.6 L1328.8 852.9 L1327.3 854.2 L1325.7 855.5 L1324.2 856.7 L1322.7 858.0 L1321.1 859.3 L1319.6 860.6 L1318.1 861.9 L1316.5 863.1 L1315.0 864.4 L1313.5 865.7 L1312.0 867.0 L1310.4 868.3 L1308.9 869.6 L1307.4 870.9 L1305.9 872.2 L1304.3 873.5 L1302.8 874.7 L1301.3 876.0 L1299.8 877.3 L1298.3 878.6 L1296.8 879.9 L1295.2 881.2 L1293.7 882.5 L1292.2 883.8 L1290.7 885.1 L1289.2 886.4 L1287.7 887.7 L1286.2 889.1 L1284.7 890.4 L1283.2 891.7 L1281.7 893.0 L1280.2 894.3 L1278.7 895.6 L1277.1 896.9 L1275.6 898.2 L1274.1 899.5 L1272.6 900.8 L1271.1 902.2 L1269.6 903.5 L1268.1 904.8 L1266.6 906.1 L1265.1 907.4 L1263.7 908.7 L1262.2 910.1 L1260.7 911.4 L1259.2 912.7 L1257.7 914.0 L1256.2 915.4 L1254.7 916.7 L1253.2 918.0 L1251.7 919.3 L1250.2 920.7 L1248.8 922.0 L1247.3 923.3 L1245.8 924.7 L1244.3 926.0 L1242.9 927.3 L1241.4 928.7 L1239.9 930.0 L1238.5 931.4 L1237.0 932.7 L1235.5 934.1 L1234.1 935.5 L1232.6 936.8 L1231.2 938.2 L1229.8 939.6 L1228.3 941.0 L1226.9 942.3 L1225.5 943.7 L1224.0 945.1 L1222.6 946.5 L1221.2 947.9 L1219.8 949.3 L1218.4 950.7 L1217.0 952.1 L1215.6 953.6 L1214.2 955.0 L1212.8 956.4 L1211.5 957.9 L1210.1 959.3 L1208.7 960.8 L1207.4 962.2 L1206.0 963.7 L1204.6 965.1 L1203.3 966.6 L1201.9 968.1 L1200.6 969.5 L1199.2 971.0 L1197.9 972.5 L1196.5 973.9 L1195.2 975.4 L1193.8 976.9 L1192.5 978.4 L1191.1 979.8 L1189.7 981.3 L1188.4 982.8 L1187.0 984.2 L1185.6 985.7 L1184.3 987.2 L1182.9 988.6 L1181.5 990.1 L1180.1 991.6 L1178.7 993.0 L1177.3 994.5 L1175.9 995.9 L1174.5 997.3 L1173.1 998.8 L1171.7 1000.2 L1170.2 1001.6 L1168.8 1003.0 L1167.4 1004.4 L1165.9 1005.8 L1164.5 1007.2 L1163.0 1008.6 L1161.5 1009.9 L1160.0 1011.3 L1158.5 1012.6 L1157.0 1013.9 L1155.5 1015.3 L1154.0 1016.6 L1152.5 1017.8 L1151.0 1019.1 L1149.4 1020.4 L1147.9 1021.6 L1146.3 1022.8 L1144.8 1024.1 L1143.2 1025.3 L1141.6 1026.4 L1140.0 1027.6 L1138.4 1028.7 L1136.7 1029.9 L1135.1 1031.0 L1133.5 1032.0 L1131.8 1033.1 L1130.1 1034.2 L1128.5 1035.2 L1126.8 1036.2 L1125.1 1037.2 L1123.3 1038.1 L1121.6 1039.0 L1119.9 1039.9 L1118.1 1040.8 L1116.3 1041.7 L1114.6 1042.5 L1112.8 1043.3 L1111.0 1044.1 L1109.2 1044.9 L1107.3 1045.7 L1105.5 1046.4 L1103.7 1047.1 L1101.8 1047.8 L1100.0 1048.5 L1098.1 1049.2 L1096.2 1049.9 L1094.3 1050.5 L1092.4 1051.2 L1090.6 1051.8 L1088.7 1052.4 L1086.7 1053.0 L1084.8 1053.6 L1082.9 1054.2 L1081.0 1054.8 L1079.1 1055.4 L1077.2 1055.9 L1075.2 1056.5 L1073.3 1057.1 L1071.4 1057.6 L1069.4 1058.2 L1067.5 1058.7 L1065.5 1059.3 L1063.6 1059.8 L1061.7 1060.4 L1059.7 1060.9 L1057.8 1061.5 L1055.9 1062.1 L1053.9 1062.6 L1052.0 1063.2 L1050.1 1063.8 L1048.1 1064.4 L1046.2 1065.0 L1044.3 1065.6 L1042.4 1066.2 L1040.5 1066.8 L1038.6 1067.5 L1036.7 1068.1 L1034.8 1068.7 L1032.9 1069.4 L1031.0 1070.1 L1029.1 1070.8 L1027.2 1071.4 L1025.4 1072.1 L1023.5 1072.8 L1021.6 1073.5 L1019.8 1074.2 L1017.9 1075.0 L1016.0 1075.7 L1014.2 1076.4 L1012.3 1077.1 L1010.5 1077.9 L1008.6 1078.6 L1006.7 1079.3 L1004.9 1080.1 L1003.0 1080.8 L1001.2 1081.5 L999.3 1082.3 L997.5 1083.0 L995.6 1083.7 L993.8 1084.5 L991.9 1085.2 L990.1 1085.9 L988.2 1086.7 L986.4 1087.4 L984.5 1088.1 L982.7 1088.8 L980.8 1089.5 L979.0 1090.2 L977.1 1090.9 L975.3 1091.6 L973.4 1092.3 L971.5 1093.0 L969.7 1093.6 L967.8 1094.3 L965.9 1094.9 L964.0 1095.6 L962.2 1096.2 L960.3 1096.8 L958.4 1097.5 L956.5 1098.0 L954.6 1098.6 L952.7 1099.2 L950.8 1099.8 L948.9 1100.3 L947.0 1100.9 L945.1 1101.4 L943.2 1102.0 L941.2 1102.5 L939.3 1103.0 L937.4 1103.5 L935.5 1104.0 L933.5 1104.5 L931.6 1105.0 L929.7 1105.5 L927.7 1106.0 L925.8 1106.5 L923.9 1107.0 L921.9 1107.5 L920.0 1108.0 L918.1 1108.4 L916.1 1108.9 L914.2 1109.4 L912.2 1109.9 L910.3 1110.4 L908.4 1110.9 L906.4 1111.4 L904.5 1111.9 L902.6 1112.3 L900.6 1112.8 L898.7 1113.4 L896.8 1113.9 L894.8 1114.4 L892.9 1114.9 L891.0 1115.4 L889.1 1116.0 L887.1 1116.5 L885.2 1117.1 L883.3 1117.6 L881.4 1118.2 L879.5 1118.8 L877.6 1119.4 L875.7 1120.0 L873.8 1120.6 L871.9 1121.2 L870.0 1121.9 L868.1 1122.5 L866.2 1123.1 L864.3 1123.8 L862.4 1124.5 L860.5 1125.1 L858.6 1125.8 L856.7 1126.4 L854.9 1127.1 L853.0 1127.8 L851.1 1128.5 L849.2 1129.1 L847.3 1129.8 L845.4 1130.5 L843.5 1131.1 L841.7 1131.8 L839.8 1132.5 L837.9 1133.1 L836.0 1133.8 L834.1 1134.4 L832.2 1135.0 L830.3 1135.6 L828.4 1136.3 L826.5 1136.9 L824.6 1137.5 L822.7 1138.1 L820.7 1138.6 L818.8 1139.2 L816.9 1139.7 L815.0 1140.3 L813.1 1140.8 L811.1 1141.3 L809.2 1141.8 L807.3 1142.3 L805.3 1142.8 L803.4 1143.3 L801.5 1143.7 L799.5 1144.2 L797.6 1144.6 L795.6 1145.0 L793.7 1145.4 L791.7 1145.8 L789.8 1146.2 L787.8 1146.5 L785.9 1146.9 L783.9 1147.2 L781.9 1147.5 L780.0 1147.8 L778.0 1148.1 L776.0 1148.4 L774.1 1148.6 L772.1 1148.9 L770.1 1149.1 L768.2 1149.3 L766.2 1149.6 L764.2 1149.8 L762.2 1150.0 L760.2 1150.1 L758.3 1150.3 L756.3 1150.5 L754.3 1150.6 L752.3 1150.8 L750.3 1150.9 L748.3 1151.0 L746.3 1151.1 L744.4 1151.2 L742.4 1151.3 L740.4 1151.4 L738.4 1151.5 L736.4 1151.6 L734.4 1151.7 L732.4 1151.7 L730.4 1151.8 L728.4 1151.8 L726.4 1151.9 L724.4 1151.9 L722.4 1151.9 L720.4 1152.0 L718.4 1152.0 L716.4 1152.0 L714.4 1152.0 L712.4 1152.0 L710.4 1152.0 L708.4 1152.0 L706.4 1152.1 L704.4 1152.1 L702.4 1152.0 L700.4 1152.0 L698.3 1152.0 L696.3 1152.0 L694.3 1152.0 L692.3 1152.0 L690.3 1152.0 L688.3 1152.0 L686.3 1152.0 L684.3 1152.0 L682.3 1152.0 L680.3 1151.9 L678.3 1151.9 L676.3 1151.9 L674.3 1151.9 L672.3 1151.9 L670.3 1151.9 L668.3 1151.9 L666.3 1151.9 L664.2 1151.9 L662.2 1151.9 L660.2 1151.8 L658.2 1151.8 L656.2 1151.8 L654.2 1151.8 L652.2 1151.8 L650.2 1151.8 L648.2 1151.8 L646.2 1151.8 L644.2 1151.8 L642.2 1151.8 L640.2 1151.8 L638.2 1151.8 L636.2 1151.8 L634.2 1151.7 L632.2 1151.7 L630.2 1151.7 L628.2 1151.7 L626.2 1151.7 L624.2 1151.7 L622.2 1151.7 L620.2 1151.7 L618.2 1151.7 L616.2 1151.7 L614.2 1151.7 L612.2 1151.7 L610.2 1151.7 L608.2 1151.7 L606.1 1151.7 L604.1 1151.7 L602.1 1151.7 L600.1 1151.7 L598.1 1151.7 L596.1 1151.7 L594.1 1151.7 L592.1 1151.7 L590.1 1151.7 L588.1 1151.7 L586.1 1151.7 L584.1 1151.7 L582.1 1151.7 L580.1 1151.7 L578.1 1151.7 L576.1 1151.7 L574.1 1151.7 L572.1 1151.7 L570.1 1151.7 L568.1 1151.7 L566.1 1151.7 L564.1 1151.7 L562.1 1151.7 L560.1 1151.7 L558.1 1151.7 L556.1 1151.7 L554.1 1151.7 L552.1 1151.7 L550.1 1151.7 L548.1 1151.7 L546.1 1151.7 L544.1 1151.7 L542.1 1151.7 L540.1 1151.7 L538.1 1151.7 L536.1 1151.7 L534.1 1151.7 L532.1 1151.7 L530.1 1151.7 L528.1 1151.7 L526.1 1151.7 L524.1 1151.7 L522.1 1151.7 L520.1 1151.7 L518.1 1151.7 L516.1 1151.7 L514.1 1151.7 L512.1 1151.7 L510.1 1151.7 L508.1 1151.7 L506.1 1151.7 L504.1 1151.7 L502.1 1151.7 L500.1 1151.7 L498.1 1151.7 L496.1 1151.7 L494.1 1151.7 L492.1 1151.7 L490.1 1151.7 L488.1 1151.7 L486.1 1151.8 L484.1 1151.8 L482.1 1151.8 L480.1 1151.8 L478.1 1151.8 L476.1 1151.8 L474.1 1151.8 L472.1 1151.8 L470.1 1151.8 L468.1 1151.8 L466.1 1151.8 L464.1 1151.8 L462.1 1151.8 L460.1 1151.8 L458.1 1151.8 L456.1 1151.8 L454.1 1151.8 L452.1 1151.8 L450.1 1151.8 L448.1 1151.8 L446.2 1151.9 L444.2 1151.9 L442.2 1151.9 L440.2 1151.9 L438.2 1151.9 L436.2 1151.9 L434.2 1151.9 L432.2 1151.9 L430.2 1151.9 L428.2 1151.9 L426.2 1151.9 L424.2 1151.9 L422.2 1151.9 L420.2 1151.9 L418.2 1151.9 L416.2 1151.9 L414.2 1151.9 L412.2 1151.9 L410.2 1152.0 L408.2 1152.0 L406.2 1152.0 L404.2 1152.0 L402.2 1152.0 L400.2 1152.0 L398.2 1152.0 L396.2 1152.0 L394.2 1152.0 L392.2 1152.0 L390.2 1152.0 L388.2 1152.0 L386.2 1152.0 L384.2 1152.0 L382.2 1152.0 L380.2 1152.0 L378.2 1152.0 L376.2 1152.0 L374.2 1152.1 L372.2 1152.1 L370.2 1152.1 L368.2 1152.1 L366.2 1152.1 L364.2 1152.1 L362.2 1152.1 L360.2 1152.1 L358.2 1152.1 L356.2 1152.1 L354.2 1152.1 L352.2 1152.1 L350.2 1152.1 L348.2 1152.1 L346.2 1152.1 L344.2 1152.1 L342.2 1152.1 L340.2 1152.1 L338.2 1152.1 L336.2 1152.2 L334.2 1152.2 L332.2 1152.2 L330.2 1152.2 L328.2 1152.2 L326.2 1152.2 L324.2 1152.2 L322.2 1152.2 L320.2 1152.2 L318.2 1152.2 L316.2 1152.2 L314.2 1152.2 L312.2 1152.2 L310.3 1152.2 L308.3 1152.2 L306.3 1152.2 L304.3 1152.2 L302.3 1152.2 L300.3 1152.2 L298.3 1152.2 L296.3 1152.2 L294.3 1152.2 L292.3 1152.2 L290.3 1152.2 L288.3 1152.2 L286.3 1152.2 L284.3 1152.2 L282.3 1152.3 L280.3 1152.3 L278.3 1152.3 L276.3 1152.3 L274.3 1152.3 L272.3 1152.3 L270.3 1152.3 L268.3 1152.3 L266.3 1152.3 L264.3 1152.3 L262.3 1152.3 L260.3 1152.3 L258.3 1152.3 L256.3 1152.3 L254.3 1152.3 L252.3 1152.3 L250.3 1152.3 L248.3 1152.3 L246.3 1152.3 L244.3 1152.3 L242.3 1152.3 L240.3 1152.3 L238.3 1152.3 L236.3 1152.3 L234.2 1152.3 L232.2 1152.3 L230.2 1152.3 L228.2 1152.3 L226.2 1152.3 L224.2 1152.3 L222.2 1152.3 L220.2 1152.3 L218.2 1152.3 L216.2 1152.3 L214.2 1152.3 L212.2 1152.3 L210.2 1152.3 L208.2 1152.2 L206.2 1152.2 L204.2 1152.2 L202.2 1152.2 L200.2 1152.2 L198.2 1152.2 L196.2 1152.2 L194.2 1152.2 L192.2 1152.2 L190.2 1152.2 L188.2 1152.2 L186.2 1152.2 L184.2 1152.2" fill="none" stroke="#0000ff" stroke-width="6.4" stroke-linecap="round" stroke-linejoin="round" clip-path="url(#pc)"/>
<circle cx="1661.1" cy="546.4" r="4.9" fill="#0000ff"/>
<path d="M184.2 1150.8 L186.2 1150.8 L188.2 1150.8 L190.2 1150.8 L192.2 1150.7 L194.2 1150.7 L196.2 1150.7 L198.2 1150.7 L200.2 1150.7 L202.2 1150.7 L204.2 1150.7 L206.1 1150.6 L208.1 1150.6 L210.1 1150.6 L212.1 1150.6 L214.1 1150.6 L216.1 1150.6 L218.1 1150.6 L220.1 1150.6 L222.1 1150.6 L224.1 1150.6 L226.1 1150.6 L228.1 1150.6 L230.1 1150.6 L232.1 1150.5 L234.1 1150.5 L236.1 1150.5 L238.1 1150.5 L240.1 1150.5 L242.1 1150.5 L244.1 1150.5 L246.1 1150.5 L248.1 1150.5 L250.1 1150.5 L252.1 1150.5 L254.1 1150.5 L256.1 1150.5 L258.1 1150.5 L260.1 1150.5 L262.1 1150.5 L264.1 1150.5 L266.1 1150.5 L268.1 1150.5 L270.1 1150.5 L272.1 1150.5 L274.1 1150.5 L276.1 1150.5 L278.1 1150.5 L280.1 1150.5 L282.1 1150.5 L284.1 1150.5 L286.1 1150.5 L288.1 1150.6 L290.1 1150.6 L292.1 1150.6 L294.1 1150.6 L296.1 1150.6 L298.1 1150.6 L300.1 1150.6 L302.1 1150.6 L304.1 1150.6 L306.1 1150.6 L308.1 1150.6 L310.1 1150.6 L312.1 1150.6 L314.1 1150.6 L316.1 1150.6 L318.1 1150.6 L320.1 1150.6 L322.1 1150.6 L324.1 1150.6 L326.1 1150.7 L328.1 1150.7 L330.1 1150.7 L332.1 1150.7 L334.1 1150.7 L336.1 1150.7 L338.1 1150.7 L340.1 1150.7 L342.1 1150.7 L344.1 1150.7 L346.1 1150.7 L348.1 1150.7 L350.1 1150.7 L352.1 1150.7 L354.1 1150.7 L356.1 1150.7 L358.1 1150.8 L360.1 1150.8 L362.1 1150.8 L364.1 1150.8 L366.1 1150.8 L368.1 1150.8 L370.1 1150.8 L372.1 1150.8 L374.1 1150.8 L376.1 1150.8 L378.1 1150.8 L380.1 1150.8 L382.1 1150.8 L384.1 1150.8 L386.1 1150.8 L388.1 1150.8 L390.1 1150.8 L392.1 1150.8 L394.1 1150.8 L396.1 1150.8 L398.1 1150.8 L400.1 1150.8 L402.1 1150.8 L404.1 1150.8 L406.1 1150.8 L408.1 1150.8 L410.1 1150.9 L412.1 1150.9 L414.1 1150.9 L416.1 1150.9 L418.1 1150.9 L420.1 1150.9 L422.1 1150.9 L424.1 1150.9 L426.1 1150.8 L428.1 1150.8 L430.1 1150.8 L432.1 1150.8 L434.1 1150.8 L436.1 1150.8 L438.1 1150.8 L440.1 1150.8 L442.1 1150.8 L444.1 1150.8 L446.1 1150.8 L448.1 1150.8 L450.1 1150.8 L452.1 1150.8 L454.1 1150.8 L456.1 1150.8 L458.1 1150.8 L460.1 1150.8 L462.1 1150.8 L464.1 1150.7 L466.1 1150.7 L468.1 1150.7 L470.1 1150.7 L472.1 1150.7 L474.1 1150.7 L476.0 1150.7 L478.0 1150.7 L480.0 1150.6 L482.0 1150.6 L484.0 1150.6 L486.0 1150.6 L488.0 1150.6 L490.0 1150.6 L492.0 1150.6 L494.0 1150.5 L496.0 1150.5 L498.0 1150.5 L500.0 1150.5 L502.0 1150.5 L504.0 1150.4 L506.0 1150.4 L508.0 1150.4 L510.0 1150.4 L511.9 1150.4 L513.9 1150.3 L515.9 1150.3 L517.9 1150.3 L519.9 1150.3 L521.9 1150.3 L523.9 1150.2 L525.9 1150.2 L527.9 1150.2 L529.9 1150.2 L531.9 1150.1 L533.9 1150.1 L535.9 1150.1 L537.9 1150.1 L539.9 1150.1 L541.8 1150.0 L543.8 1150.0 L545.8 1150.0 L547.8 1150.0 L549.8 1150.0 L551.8 1150.0 L553.8 1149.9 L555.8 1149.9 L557.8 1149.9 L559.8 1149.9 L561.8 1149.9 L563.8 1149.9 L565.8 1149.9 L567.8 1149.8 L569.8 1149.8 L571.8 1149.8 L573.8 1149.8 L575.8 1149.8 L577.8 1149.8 L579.8 1149.8 L581.8 1149.8 L583.8 1149.8 L585.8 1149.8 L587.8 1149.8 L589.8 1149.8 L591.7 1149.8 L593.7 1149.8 L595.7 1149.8 L597.7 1149.8 L599.8 1149.8 L601.8 1149.8 L603.8 1149.8 L605.8 1149.8 L607.8 1149.8 L609.8 1149.8 L611.8 1149.9 L613.8 1149.9 L615.8 1149.9 L617.8 1149.9 L619.8 1149.9 L621.8 1149.9 L623.8 1150.0 L625.8 1150.0 L627.8 1150.0 L629.8 1150.1 L631.8 1150.1 L633.8 1150.1 L635.8 1150.2 L637.8 1150.2 L639.9 1150.2 L641.9 1150.3 L643.9 1150.3 L645.9 1150.4 L647.9 1150.4 L649.9 1150.5 L651.9 1150.5 L653.9 1150.6 L656.0 1150.6 L658.0 1150.7 L660.0 1150.7 L662.0 1150.8 L664.0 1150.8 L666.0 1150.8 L668.0 1150.9 L670.1 1150.9 L672.1 1151.0 L674.1 1151.0 L676.1 1151.0 L678.1 1151.1 L680.1 1151.1 L682.1 1151.1 L684.1 1151.1 L686.2 1151.1 L688.2 1151.1 L690.2 1151.1 L692.2 1151.1 L694.2 1151.1 L696.2 1151.1 L698.2 1151.1 L700.2 1151.0 L702.2 1151.0 L704.2 1150.9 L706.2 1150.9 L708.2 1150.8 L710.2 1150.7 L712.2 1150.7 L714.2 1150.6 L716.2 1150.4 L718.1 1150.3 L720.1 1150.2 L722.1 1150.1 L724.1 1149.9 L726.1 1149.7 L728.0 1149.6 L730.0 1149.4 L732.0 1149.2 L734.0 1149.0 L735.9 1148.7 L737.9 1148.5 L739.9 1148.2 L741.8 1148.0 L743.8 1147.7 L745.7 1147.4 L747.7 1147.0 L749.6 1146.7 L751.6 1146.4 L753.5 1146.0 L755.5 1145.6 L757.4 1145.2 L759.3 1144.8 L761.3 1144.3 L763.2 1143.9 L765.1 1143.4 L767.0 1142.9 L769.0 1142.4 L770.9 1141.9 L772.8 1141.3 L774.7 1140.7 L776.6 1140.1 L778.4 1139.5 L780.3 1138.8 L782.2 1138.2 L784.0 1137.5 L785.9 1136.8 L787.7 1136.0 L789.6 1135.3 L791.4 1134.5 L793.2 1133.7 L795.0 1132.8 L796.8 1132.0 L798.5 1131.1 L800.3 1130.2 L802.0 1129.2 L803.7 1128.3 L805.4 1127.3 L807.1 1126.3 L808.8 1125.2 L810.5 1124.1 L812.1 1123.0 L813.7 1121.9 L815.3 1120.7 L816.9 1119.5 L818.5 1118.2 L820.0 1117.0 L821.5 1115.7 L823.0 1114.4 L824.5 1113.0 L826.0 1111.7 L827.5 1110.3 L828.9 1108.9 L830.3 1107.4 L831.8 1106.0 L833.2 1104.5 L834.6 1103.1 L836.0 1101.6 L837.3 1100.1 L838.7 1098.6 L840.1 1097.1 L841.5 1095.6 L842.8 1094.0 L844.2 1092.5 L845.6 1091.0 L846.9 1089.5 L848.3 1088.0 L849.7 1086.5 L851.0 1085.0 L852.4 1083.5 L853.8 1082.0 L855.2 1080.5 L856.5 1079.0 L857.9 1077.6 L859.3 1076.2 L860.8 1074.7 L862.2 1073.4 L863.6 1072.0 L865.1 1070.6 L866.5 1069.3 L868.0 1067.9 L869.4 1066.6 L870.9 1065.3 L872.4 1064.0 L873.9 1062.7 L875.3 1061.4 L876.8 1060.1 L878.3 1058.8 L879.7 1057.6 L881.2 1056.3 L882.7 1055.0 L884.2 1053.7 L885.6 1052.4 L887.1 1051.1 L888.5 1049.8 L890.0 1048.5 L891.5 1047.3 L893.0 1046.0 L894.6 1044.7 L896.2 1043.4 L897.8 1042.1 L899.5 1040.8 L901.2 1039.6 L902.9 1038.3 L904.7 1037.1 L906.5 1035.9 L908.3 1034.9 L910.2 1033.9 L912.1 1033.0 L914.0 1032.2 L915.8 1031.5 L917.7 1031.0 L919.6 1030.7 L921.4 1030.5 L923.3 1030.6 L925.1 1030.8 L926.9 1031.3 L928.6 1031.9 L930.4 1032.7 L932.1 1033.6 L933.8 1034.7 L935.5 1035.9 L937.1 1037.1 L938.8 1038.5 L940.4 1039.9 L942.0 1041.3 L943.6 1042.7 L945.2 1044.2 L946.8 1045.5 L948.5 1046.8 L950.1 1048.0 L951.8 1049.1 L953.5 1050.0 L955.3 1050.8 L957.1 1051.3 L958.9 1051.7 L960.8 1051.8 L962.7 1051.8 L964.6 1051.6 L966.5 1051.2 L968.4 1050.6 L970.3 1050.0 L972.1 1049.2 L974.0 1048.3 L975.9 1047.4 L977.7 1046.4 L979.5 1045.4 L981.2 1044.3 L982.9 1043.2 L984.6 1042.1 L986.3 1041.0 L988.0 1039.9 L989.6 1038.7 L991.2 1037.5 L992.8 1036.2 L994.3 1035.0 L995.9 1033.7 L997.4 1032.4 L998.9 1031.1 L1000.4 1029.8 L1001.8 1028.5 L1003.3 1027.1 L1004.7 1025.7 L1006.1 1024.3 L1007.5 1022.9 L1008.9 1021.5 L1010.3 1020.1 L1011.7 1018.7 L1013.1 1017.2 L1014.4 1015.8 L1015.8 1014.3 L1017.1 1012.8 L1018.5 1011.4 L1019.8 1009.9 L1021.1 1008.4 L1022.5 1006.9 L1023.8 1005.4 L1025.1 1003.9 L1026.5 1002.5 L1027.8 1001.0 L1029.2 999.5 L1030.5 998.0 L1031.8 996.5 L1033.2 995.0 L1034.5 993.6 L1035.9 992.1 L1037.3 990.6 L1038.6 989.2 L1040.0 987.7 L1041.4 986.3 L1042.8 984.9 L1044.2 983.5 L1045.6 982.0 L1047.1 980.7 L1048.5 979.3 L1050.0 977.9 L1051.4 976.5 L1052.9 975.2 L1054.4 973.9 L1055.9 972.6 L1057.5 971.3 L1059.0 970.0 L1060.6 968.8 L1062.2 967.5 L1063.8 966.4 L1065.5 965.2 L1067.1 964.1 L1068.8 963.0 L1070.5 962.0 L1072.2 961.0 L1074.0 960.1 L1075.7 959.2 L1077.5 958.4 L1079.4 957.7 L1081.2 957.0 L1083.1 956.4 L1085.0 955.8 L1087.0 955.2 L1088.9 954.7 L1090.8 954.1 L1092.7 953.4 L1094.6 952.7 L1096.5 951.9 L1098.3 951.0 L1100.1 950.0 L1101.8 949.0 L1103.5 948.0 L1105.2 946.9 L1106.8 945.7 L1108.4 944.5 L1110.0 943.3 L1111.5 942.0 L1113.0 940.7 L1114.4 939.4 L1115.9 938.0 L1117.3 936.6 L1118.6 935.2 L1120.0 933.8 L1121.3 932.3 L1122.6 930.8 L1123.9 929.2 L1125.1 927.7 L1126.4 926.1 L1127.6 924.5 L1128.8 922.9 L1130.0 921.3 L1131.1 919.7 L1132.3 918.0 L1133.4 916.4 L1134.6 914.7 L1135.7 913.0 L1136.8 911.4 L1138.0 909.7 L1139.1 908.0 L1140.2 906.3 L1141.3 904.6 L1142.4 903.0 L1143.5 901.3 L1144.7 899.6 L1145.8 898.0 L1146.9 896.3 L1148.0 894.6 L1149.1 893.0 L1150.2 891.3 L1151.3 889.7 L1152.5 888.0 L1153.6 886.3 L1154.7 884.7 L1155.8 883.0 L1156.9 881.4 L1158.0 879.7 L1159.2 878.1 L1160.3 876.4 L1161.4 874.8 L1162.5 873.1 L1163.6 871.5 L1164.7 869.9 L1165.8 868.2 L1166.9 866.6 L1168.1 864.9 L1169.2 863.3 L1170.3 861.6 L1171.4 860.0 L1172.5 858.3 L1173.6 856.7 L1174.7 855.0 L1175.8 853.3 L1176.9 851.7 L1178.0 850.0 L1179.1 848.4 L1180.2 846.7 L1181.3 845.0 L1182.4 843.4 L1183.5 841.7 L1184.6 840.1 L1185.7 838.4 L1186.8 836.7 L1187.9 835.1 L1189.0 833.4 L1190.1 831.7 L1191.2 830.0 L1192.2 828.4 L1193.3 826.7 L1194.4 825.0 L1195.5 823.3 L1196.6 821.7 L1197.7 820.0 L1198.8 818.3 L1199.8 816.6 L1200.9 815.0 L1202.0 813.3 L1203.1 811.6 L1204.2 809.9 L1205.2 808.2 L1206.3 806.5 L1207.4 804.9 L1208.5 803.2 L1209.6 801.5 L1210.6 799.8 L1211.7 798.1 L1212.8 796.4 L1213.8 794.7 L1214.9 793.0 L1216.0 791.3 L1217.0 789.6 L1218.1 788.0 L1219.2 786.3 L1220.2 784.6 L1221.3 782.9 L1222.4 781.2 L1223.4 779.5 L1224.5 777.8 L1225.6 776.1 L1226.6 774.4 L1227.7 772.7 L1228.7 771.0 L1229.8 769.3 L1230.8 767.6 L1231.9 765.9 L1233.0 764.2 L1234.0 762.5 L1235.1 760.8 L1236.1 759.1 L1237.2 757.4 L1238.2 755.7 L1239.3 754.0 L1240.3 752.3 L1241.4 750.6 L1242.4 748.9 L1243.4 747.2 L1244.5 745.5 L1245.5 743.8 L1246.6 742.1 L1247.6 740.3 L1248.6 738.6 L1249.7 736.9 L1250.7 735.2 L1251.8 733.5 L1252.8 731.8 L1253.8 730.1 L1254.9 728.4 L1255.9 726.7 L1256.9 725.0 L1258.0 723.3 L1259.0 721.6 L1260.0 719.9 L1261.1 718.1 L1262.1 716.4 L1263.1 714.7 L1264.1 713.0 L1265.2 711.3 L1266.2 709.6 L1267.2 707.9 L1268.2 706.2 L1269.3 704.4 L1270.3 702.7 L1271.3 701.0 L1272.3 699.3 L1273.3 697.6 L1274.3 695.9 L1275.4 694.2 L1276.4 692.4 L1277.4 690.7 L1278.4 689.0 L1279.4 687.3 L1280.4 685.6 L1281.5 683.8 L1282.5 682.1 L1283.5 680.4 L1284.5 678.7 L1285.5 677.0 L1286.5 675.2 L1287.5 673.5 L1288.5 671.8 L1289.5 670.1 L1290.5 668.3 L1291.5 666.6 L1292.5 664.9 L1293.5 663.2 L1294.5 661.4 L1295.5 659.7 L1296.5 658.0 L1297.5 656.3 L1298.5 654.5 L1299.5 652.8 L1300.5 651.1 L1301.5 649.3 L1302.5 647.6 L1303.5 645.9 L1304.5 644.2 L1305.5 642.4 L1306.5 640.7 L1307.5 639.0 L1308.5 637.2 L1309.5 635.5 L1310.5 633.8 L1311.5 632.0 L1312.4 630.3 L1313.4 628.5 L1314.4 626.8 L1315.4 625.1 L1316.4 623.3 L1317.4 621.6 L1318.4 619.9 L1319.4 618.1 L1320.3 616.4 L1321.3 614.6 L1322.3 612.9 L1323.3 611.2 L1324.3 609.4 L1325.3 607.7 L1326.3 606.0 L1327.3 604.2 L1328.2 602.5 L1329.2 600.7 L1330.2 599.0 L1331.2 597.3 L1332.2 595.5 L1333.2 593.8 L1334.2 592.1 L1335.2 590.3 L1336.2 588.6 L1337.2 586.9 L1338.2 585.1 L1339.1 583.4 L1340.1 581.7 L1341.1 579.9 L1342.1 578.2 L1343.1 576.5 L1344.1 574.7 L1345.1 573.0 L1346.1 571.3 L1347.1 569.5 L1348.1 567.8 L1349.1 566.1 L1350.2 564.4 L1351.2 562.6 L1352.2 560.9 L1353.2 559.2 L1354.2 557.5 L1355.2 555.7 L1356.2 554.0 L1357.2 552.3 L1358.3 550.6 L1359.3 548.9 L1360.3 547.2 L1361.3 545.4 L1362.4 543.7 L1363.4 542.0 L1364.4 540.3 L1365.4 538.6 L1366.5 536.9 L1367.5 535.2 L1368.6 533.5 L1369.6 531.8 L1370.6 530.1 L1371.7 528.4 L1372.7 526.7 L1373.8 525.0 L1374.8 523.3 L1375.9 521.6 L1376.9 519.9 L1378.0 518.2 L1379.0 516.5 L1380.1 514.8 L1381.2 513.1 L1382.2 511.4 L1383.3 509.8 L1384.4 508.1 L1385.4 506.4 L1386.5 504.7 L1387.6 503.0 L1388.7 501.3 L1389.7 499.7 L1390.8 498.0 L1391.9 496.3 L1393.0 494.6 L1394.1 493.0 L1395.1 491.3 L1396.2 489.6 L1397.3 487.9 L1398.4 486.3 L1399.5 484.6 L1400.6 482.9 L1401.7 481.3 L1402.8 479.6 L1403.9 477.9 L1405.0 476.3 L1406.1 474.6 L1407.2 472.9 L1408.3 471.3 L1409.4 469.6 L1410.5 468.0 L1411.6 466.3 L1412.7 464.6 L1413.9 463.0 L1415.0 461.3 L1416.1 459.7 L1417.2 458.0 L1418.3 456.4 L1419.5 454.7 L1420.6 453.1 L1421.7 451.4 L1422.8 449.8 L1424.0 448.1 L1425.1 446.5 L1426.2 444.8 L1427.4 443.2 L1428.5 441.5 L1429.7 439.9 L1430.8 438.2 L1431.9 436.6 L1433.1 435.0 L1434.2 433.3 L1435.4 431.7 L1436.5 430.1 L1437.7 428.4 L1438.8 426.8 L1440.0 425.1 L1441.1 423.5 L1442.3 421.9 L1443.5 420.3 L1444.6 418.6 L1445.8 417.0 L1447.0 415.4 L1448.1 413.8 L1449.3 412.1 L1450.5 410.5 L1451.7 408.9 L1452.8 407.3 L1454.0 405.7 L1455.2 404.1 L1456.4 402.5 L1457.6 400.8 L1458.8 399.2 L1460.0 397.6 L1461.2 396.0 L1462.4 394.4 L1463.6 392.8 L1464.8 391.3 L1466.0 389.7 L1467.2 388.1 L1468.4 386.5 L1469.7 384.9 L1470.9 383.3 L1472.1 381.7 L1473.3 380.2 L1474.6 378.6 L1475.8 377.0 L1477.1 375.5 L1478.3 373.9 L1479.5 372.3 L1480.8 370.8 L1482.1 369.2 L1483.3 367.7 L1484.6 366.1 L1485.8 364.6 L1487.1 363.0 L1488.4 361.5 L1489.7 360.0 L1490.9 358.4 L1492.2 356.9 L1493.5 355.4 L1494.8 353.9 L1496.1 352.4 L1497.4 350.8 L1498.7 349.3 L1500.0 347.8 L1501.3 346.3 L1502.7 344.8 L1504.0 343.3 L1505.3 341.9 L1506.6 340.4 L1508.0 338.9 L1509.3 337.4 L1510.7 335.9 L1512.0 334.4 L1513.3 333.0 L1514.7 331.5 L1516.0 330.0 L1517.4 328.6 L1518.8 327.1 L1520.1 325.7 L1521.5 324.2 L1522.9 322.8 L1524.2 321.3 L1525.6 319.9 L1527.0 318.4 L1528.4 317.0 L1529.8 315.5 L1531.1 314.1 L1532.5 312.7 L1533.9 311.2 L1535.3 309.8 L1536.7 308.4 L1538.1 306.9 L1539.5 305.5 L1540.9 304.1 L1542.3 302.7 L1543.7 301.3 L1545.1 299.8 L1546.5 298.4 L1548.0 297.0 L1549.4 295.6 L1550.8 294.2 L1552.2 292.8 L1553.6 291.4 L1555.0 290.0 L1556.5 288.6 L1557.9 287.2 L1559.3 285.8 L1560.7 284.4 L1562.2 283.0 L1563.6 281.6 L1565.0 280.2 L1566.5 278.8 L1567.9 277.4 L1569.3 276.0 L1570.7 274.6 L1572.2 273.2 L1573.6 271.8 L1575.1 270.4 L1576.5 269.0 L1577.9 267.6 L1579.4 266.2 L1580.8 264.9 L1582.2 263.5 L1583.7 262.1 L1585.1 260.7 L1586.6 259.3 L1588.0 257.9 L1589.4 256.5 L1590.9 255.1 L1592.3 253.7 L1593.7 252.4 L1595.2 251.0 L1596.6 249.6 L1598.1 248.2 L1599.5 246.8 L1600.9 245.4 L1602.4 244.0 L1603.8 242.6 L1605.2 241.2 L1606.7 239.8 L1608.1 238.5 L1609.5 237.1 L1611.0 235.7 L1612.4 234.3 L1613.8 232.9 L1615.3 231.5 L1616.7 230.1 L1618.1 228.7 L1619.5 227.3 L1621.0 225.9 L1622.4 224.5 L1623.8 223.1 L1625.2 221.7 L1626.7 220.3 L1628.1 218.9 L1629.5 217.5 L1630.9 216.0 L1632.3 214.6 L1633.7 213.2 L1635.1 211.8 L1636.5 210.4 L1637.9 209.0 L1639.3 207.5 L1640.7 206.1 L1642.1 204.7 L1643.5 203.3 L1644.9 201.8 L1646.3 200.4 L1647.7 199.0 L1649.1 197.5 L1650.5 196.1 L1651.8 194.7 L1653.2 193.2 L1654.6 191.8 L1655.9 190.3 L1657.3 188.9 L1658.7 187.4 L1660.0 186.0 L1661.4 184.5 L1660.4 186.2 L1659.4 187.9 L1658.3 189.6 L1657.3 191.3 L1656.3 193.0 L1655.3 194.7 L1654.3 196.4 L1653.3 198.1 L1652.3 199.8 L1651.3 201.5 L1650.3 203.2 L1649.4 204.9 L1648.4 206.6 L1647.4 208.3 L1646.4 210.1 L1645.4 211.8 L1644.4 213.5 L1643.4 215.2 L1642.5 217.0 L1641.5 218.7 L1640.5 220.4 L1639.5 222.2 L1638.6 223.9 L1637.6 225.6 L1636.6 227.4 L1635.6 229.1 L1634.6 230.8 L1633.7 232.6 L1632.7 234.3 L1631.7 236.1 L1630.7 237.8 L1629.7 239.5 L1628.8 241.3 L1627.8 243.0 L1626.8 244.7 L1625.8 246.5 L1624.8 248.2 L1623.8 250.0 L1622.8 251.7 L1621.8 253.4 L1620.8 255.2 L1619.9 256.9 L1618.8 258.6 L1617.8 260.3 L1616.8 262.1 L1615.8 263.8 L1614.8 265.5 L1613.8 267.2 L1612.8 269.0 L1611.8 270.7 L1610.7 272.4 L1609.7 274.1 L1608.7 275.8 L1607.6 277.5 L1606.6 279.2 L1605.5 280.9 L1604.5 282.6 L1603.4 284.3 L1602.4 286.0 L1601.3 287.7 L1600.2 289.4 L1599.2 291.1 L1598.1 292.8 L1597.0 294.4 L1595.9 296.1 L1594.8 297.8 L1593.7 299.5 L1592.6 301.1 L1591.5 302.8 L1590.4 304.5 L1589.3 306.1 L1588.2 307.8 L1587.1 309.4 L1586.0 311.1 L1584.8 312.7 L1583.7 314.4 L1582.6 316.0 L1581.4 317.7 L1580.3 319.3 L1579.2 321.0 L1578.0 322.6 L1576.9 324.3 L1575.7 325.9 L1574.6 327.5 L1573.4 329.2 L1572.3 330.8 L1571.1 332.4 L1570.0 334.1 L1568.8 335.7 L1567.7 337.3 L1566.5 338.9 L1565.3 340.6 L1564.2 342.2 L1563.0 343.8 L1561.8 345.4 L1560.7 347.1 L1559.5 348.7 L1558.3 350.3 L1557.2 351.9 L1556.0 353.5 L1554.8 355.1 L1553.6 356.8 L1552.5 358.4 L1551.3 360.0 L1550.1 361.6 L1548.9 363.2 L1547.7 364.8 L1546.6 366.5 L1545.4 368.1 L1544.2 369.7 L1543.0 371.3 L1541.9 372.9 L1540.7 374.5 L1539.5 376.1 L1538.3 377.7 L1537.2 379.4 L1536.0 381.0 L1534.8 382.6 L1533.6 384.2 L1532.5 385.8 L1531.3 387.4 L1530.1 389.1 L1529.0 390.7 L1527.8 392.3 L1526.6 393.9 L1525.4 395.5 L1524.3 397.1 L1523.1 398.8 L1521.9 400.4 L1520.8 402.0 L1519.6 403.6 L1518.5 405.2 L1517.3 406.9 L1516.1 408.5 L1515.0 410.1 L1513.8 411.7 L1512.6 413.3 L1511.5 415.0 L1510.3 416.6 L1509.1 418.2 L1508.0 419.8 L1506.8 421.4 L1505.7 423.0 L1504.5 424.7 L1503.3 426.3 L1502.2 427.9 L1501.0 429.5 L1499.8 431.1 L1498.7 432.8 L1497.5 434.4 L1496.4 436.0 L1495.2 437.6 L1494.0 439.2 L1492.9 440.8 L1491.7 442.4 L1490.5 444.1 L1489.4 445.7 L1488.2 447.3 L1487.0 448.9 L1485.8 450.5 L1484.7 452.1 L1483.5 453.7 L1482.3 455.3 L1481.2 456.9 L1480.0 458.5 L1478.8 460.1 L1477.6 461.7 L1476.4 463.4 L1475.3 465.0 L1474.1 466.6 L1472.9 468.2 L1471.7 469.8 L1470.5 471.4 L1469.4 473.0 L1468.2 474.5 L1467.0 476.1 L1465.8 477.7 L1464.6 479.3 L1463.4 480.9 L1462.2 482.5 L1461.0 484.1 L1459.8 485.7 L1458.6 487.3 L1457.4 488.9 L1456.2 490.5 L1455.0 492.0 L1453.8 493.6 L1452.6 495.2 L1451.4 496.8 L1450.2 498.4 L1449.0 500.0 L1447.8 501.5 L1446.6 503.1 L1445.3 504.7 L1444.1 506.3 L1442.9 507.8 L1441.7 509.4 L1440.5 511.0 L1439.3 512.6 L1438.0 514.1 L1436.8 515.7 L1435.6 517.3 L1434.4 518.9 L1433.2 520.4 L1431.9 522.0 L1430.7 523.6 L1429.5 525.1 L1428.3 526.7 L1427.0 528.3 L1425.8 529.8 L1424.6 531.4 L1423.3 533.0 L1422.1 534.5 L1420.9 536.1 L1419.7 537.7 L1418.4 539.2 L1417.2 540.8 L1416.0 542.4 L1414.7 543.9 L1413.5 545.5 L1412.3 547.1 L1411.0 548.6 L1409.8 550.2 L1408.6 551.8 L1407.3 553.3 L1406.1 554.9 L1404.8 556.5 L1403.6 558.0 L1402.4 559.6 L1401.1 561.1 L1399.9 562.7 L1398.6 564.3 L1397.4 565.8 L1396.2 567.4 L1394.9 569.0 L1393.7 570.5 L1392.4 572.1 L1391.2 573.7 L1390.0 575.2 L1388.7 576.8 L1387.5 578.3 L1386.2 579.9 L1385.0 581.5 L1383.8 583.0 L1382.5 584.6 L1381.3 586.2 L1380.0 587.7 L1378.8 589.3 L1377.6 590.9 L1376.3 592.4 L1375.1 594.0 L1373.9 595.6 L1372.6 597.1 L1371.4 598.7 L1370.1 600.3 L1368.9 601.8 L1367.7 603.4 L1366.4 605.0 L1365.2 606.5 L1364.0 608.1 L1362.7 609.7 L1361.5 611.2 L1360.3 612.8 L1359.0 614.4 L1357.8 616.0 L1356.6 617.5 L1355.3 619.1 L1354.1 620.7 L1352.9 622.3 L1351.6 623.8 L1350.4 625.4 L1349.2 627.0 L1348.0 628.6 L1346.7 630.1 L1345.5 631.7 L1344.3 633.3 L1343.1 634.9 L1341.9 636.5 L1340.6 638.1 L1339.4 639.6 L1338.2 641.2 L1337.0 642.8 L1335.8 644.4 L1334.6 646.0 L1333.4 647.6 L1332.2 649.2 L1330.9 650.7 L1329.7 652.3 L1328.5 653.9 L1327.3 655.5 L1326.1 657.1 L1324.9 658.7 L1323.7 660.3 L1322.5 661.9 L1321.3 663.5 L1320.2 665.1 L1319.0 666.7 L1317.8 668.3 L1316.6 669.9 L1315.4 671.5 L1314.2 673.1 L1313.0 674.7 L1311.8 676.3 L1310.7 677.9 L1309.5 679.5 L1308.3 681.2 L1307.1 682.8 L1305.9 684.4 L1304.8 686.0 L1303.6 687.6 L1302.4 689.2 L1301.3 690.8 L1300.1 692.5 L1298.9 694.1 L1297.8 695.7 L1296.6 697.3 L1295.4 698.9 L1294.3 700.6 L1293.1 702.2 L1292.0 703.8 L1290.8 705.4 L1289.7 707.1 L1288.5 708.7 L1287.4 710.3 L1286.2 712.0 L1285.1 713.6 L1283.9 715.2 L1282.8 716.8 L1281.6 718.5 L1280.5 720.1 L1279.3 721.8 L1278.2 723.4 L1277.1 725.0 L1275.9 726.7 L1274.8 728.3 L1273.7 730.0 L1272.5 731.6 L1271.4 733.2 L1270.3 734.9 L1269.1 736.5 L1268.0 738.2 L1266.9 739.8 L1265.8 741.5 L1264.6 743.1 L1263.5 744.8 L1262.4 746.4 L1261.3 748.1 L1260.2 749.7 L1259.1 751.4 L1257.9 753.0 L1256.8 754.7 L1255.7 756.4 L1254.6 758.0 L1253.5 759.7 L1252.4 761.3 L1251.3 763.0 L1250.2 764.7 L1249.1 766.3 L1248.0 768.0 L1246.9 769.6 L1245.8 771.3 L1244.7 773.0 L1243.6 774.6 L1242.5 776.3 L1241.4 778.0 L1240.3 779.6 L1239.2 781.3 L1238.1 783.0 L1237.0 784.6 L1235.9 786.3 L1234.8 788.0 L1233.7 789.7 L1232.6 791.3 L1231.5 793.0 L1230.4 794.7 L1229.3 796.3 L1228.2 798.0 L1227.1 799.7 L1226.0 801.4 L1225.0 803.0 L1223.9 804.7 L1222.8 806.4 L1221.7 808.1 L1220.6 809.7 L1219.5 811.4 L1218.4 813.1 L1217.3 814.8 L1216.2 816.4 L1215.2 818.1 L1214.1 819.8 L1213.0 821.5 L1211.9 823.2 L1210.8 824.8 L1209.7 826.5 L1208.6 828.2 L1207.6 829.9 L1206.5 831.5 L1205.4 833.2 L1204.3 834.9 L1203.2 836.6 L1202.1 838.2 L1201.0 839.9 L1199.9 841.6 L1198.9 843.3 L1197.8 844.9 L1196.7 846.6 L1195.6 848.3 L1194.5 850.0 L1193.4 851.7 L1192.3 853.3 L1191.2 855.0 L1190.2 856.7 L1189.1 858.3 L1188.0 860.0 L1186.9 861.7 L1185.8 863.4 L1184.7 865.0 L1183.6 866.7 L1182.5 868.4 L1181.4 870.1 L1180.3 871.7 L1179.2 873.4 L1178.1 875.1 L1177.0 876.7 L1175.9 878.4 L1174.8 880.1 L1173.7 881.7 L1172.6 883.4 L1171.5 885.1 L1170.4 886.7 L1169.3 888.4 L1168.2 890.1 L1167.1 891.7 L1166.0 893.4 L1164.9 895.1 L1163.8 896.7 L1162.7 898.4 L1161.6 900.0 L1160.4 901.7 L1159.3 903.4 L1158.2 905.0 L1157.1 906.7 L1156.0 908.3 L1154.9 910.0 L1153.7 911.6 L1152.6 913.3 L1151.5 915.0 L1150.4 916.6 L1149.2 918.3 L1148.1 919.9 L1147.0 921.6 L1145.9 923.2 L1144.7 924.8 L1143.6 926.5 L1142.5 928.1 L1141.3 929.8 L1140.2 931.4 L1139.0 933.1 L1137.9 934.7 L1136.8 936.3 L1135.6 938.0 L1134.5 939.6 L1133.3 941.2 L1132.2 942.9 L1131.0 944.5 L1129.8 946.1 L1128.7 947.8 L1127.5 949.4 L1126.4 951.0 L1125.2 952.6 L1124.0 954.2 L1122.8 955.9 L1121.7 957.5 L1120.5 959.1 L1119.3 960.7 L1118.1 962.3 L1116.9 963.9 L1115.7 965.5 L1114.5 967.1 L1113.3 968.7 L1112.1 970.3 L1110.9 971.8 L1109.7 973.4 L1108.5 975.0 L1107.3 976.6 L1106.0 978.1 L1104.8 979.7 L1103.5 981.3 L1102.3 982.8 L1101.1 984.4 L1099.8 985.9 L1098.5 987.4 L1097.3 989.0 L1096.0 990.5 L1094.7 992.0 L1093.4 993.6 L1092.2 995.1 L1090.9 996.6 L1089.6 998.1 L1088.3 999.6 L1086.9 1001.1 L1085.6 1002.6 L1084.3 1004.1 L1083.0 1005.5 L1081.6 1007.0 L1080.3 1008.5 L1078.9 1009.9 L1077.6 1011.4 L1076.2 1012.8 L1074.8 1014.3 L1073.4 1015.7 L1072.0 1017.1 L1070.6 1018.5 L1069.2 1019.9 L1067.8 1021.4 L1066.4 1022.7 L1065.0 1024.1 L1063.5 1025.5 L1062.1 1026.9 L1060.6 1028.3 L1059.1 1029.6 L1057.7 1031.0 L1056.2 1032.3 L1054.7 1033.6 L1053.2 1035.0 L1051.7 1036.3 L1050.2 1037.6 L1048.7 1038.9 L1047.1 1040.2 L1045.6 1041.5 L1044.0 1042.7 L1042.5 1044.0 L1040.9 1045.2 L1039.3 1046.5 L1037.8 1047.7 L1036.2 1048.9 L1034.6 1050.2 L1033.0 1051.4 L1031.4 1052.6 L1029.7 1053.7 L1028.1 1054.9 L1026.5 1056.1 L1024.8 1057.2 L1023.2 1058.4 L1021.5 1059.5 L1019.9 1060.6 L1018.2 1061.7 L1016.5 1062.8 L1014.8 1063.9 L1013.1 1065.0 L1011.4 1066.0 L1009.7 1067.1 L1008.0 1068.1 L1006.3 1069.1 L1004.6 1070.1 L1002.8 1071.1 L1001.1 1072.1 L999.3 1073.1 L997.6 1074.0 L995.8 1075.0 L994.1 1075.9 L992.3 1076.8 L990.5 1077.7 L988.7 1078.6 L986.9 1079.5 L985.1 1080.3 L983.3 1081.2 L981.5 1082.0 L979.7 1082.8 L977.9 1083.6 L976.0 1084.4 L974.2 1085.2 L972.4 1085.9 L970.5 1086.7 L968.7 1087.4 L966.8 1088.1 L964.9 1088.8 L963.1 1089.5 L961.2 1090.2 L959.3 1090.8 L957.4 1091.4 L955.5 1092.0 L953.6 1092.6 L951.7 1093.2 L949.8 1093.8 L947.9 1094.4 L946.0 1094.9 L944.1 1095.5 L942.2 1096.0 L940.3 1096.5 L938.3 1097.0 L936.4 1097.5 L934.5 1098.1 L932.6 1098.6 L930.6 1099.1 L928.7 1099.6 L926.8 1100.1 L924.8 1100.6 L922.9 1101.1 L921.0 1101.6 L919.0 1102.1 L917.1 1102.6 L915.2 1103.1 L913.3 1103.6 L911.3 1104.2 L909.4 1104.7 L907.5 1105.3 L905.6 1105.8 L903.7 1106.4 L901.8 1107.0 L899.9 1107.6 L898.0 1108.2 L896.1 1108.8 L894.2 1109.5 L892.3 1110.1 L890.4 1110.8 L888.6 1111.4 L886.7 1112.1 L884.8 1112.8 L882.9 1113.5 L881.1 1114.2 L879.2 1114.9 L877.4 1115.7 L875.5 1116.4 L873.7 1117.2 L871.8 1117.9 L870.0 1118.7 L868.1 1119.5 L866.3 1120.3 L864.5 1121.1 L862.6 1121.9 L860.8 1122.7 L859.0 1123.6 L857.1 1124.4 L855.3 1125.2 L853.5 1126.1 L851.7 1126.9 L849.9 1127.8 L848.0 1128.6 L846.2 1129.5 L844.4 1130.3 L842.6 1131.2 L840.8 1132.0 L838.9 1132.8 L837.1 1133.7 L835.3 1134.5 L833.4 1135.3 L831.6 1136.0 L829.8 1136.8 L827.9 1137.6 L826.1 1138.3 L824.2 1139.0 L822.3 1139.7 L820.5 1140.3 L818.6 1141.0 L816.7 1141.6 L814.8 1142.2 L812.9 1142.7 L811.0 1143.2 L809.1 1143.7 L807.2 1144.2 L805.2 1144.7 L803.3 1145.1 L801.4 1145.5 L799.4 1145.9 L797.5 1146.3 L795.5 1146.6 L793.5 1146.9 L791.6 1147.2 L789.6 1147.5 L787.6 1147.8 L785.7 1148.1 L783.7 1148.3 L781.7 1148.5 L779.7 1148.8 L777.7 1149.0 L775.7 1149.2 L773.7 1149.4 L771.7 1149.5 L769.8 1149.7 L767.8 1149.9 L765.8 1150.0 L763.8 1150.2 L761.8 1150.3 L759.8 1150.5 L757.8 1150.6 L755.8 1150.8 L753.8 1150.9 L751.8 1151.0 L749.8 1151.1 L747.8 1151.2 L745.8 1151.3 L743.8 1151.4 L741.8 1151.5 L739.8 1151.6 L737.9 1151.7 L735.9 1151.7 L733.9 1151.8 L731.9 1151.9 L729.9 1151.9 L727.9 1152.0 L725.9 1152.1 L723.9 1152.1 L721.9 1152.1 L719.9 1152.2 L717.9 1152.2 L715.9 1152.3 L713.9 1152.3 L711.9 1152.3 L709.9 1152.3 L707.9 1152.4 L705.9 1152.4 L703.9 1152.4 L701.9 1152.4 L699.9 1152.4 L697.9 1152.4 L695.9 1152.4 L693.9 1152.4 L691.9 1152.4 L689.9 1152.4 L687.9 1152.4 L685.9 1152.4 L683.9 1152.4 L681.9 1152.4 L679.9 1152.3 L677.9 1152.3 L675.9 1152.3 L673.9 1152.3 L671.9 1152.3 L669.9 1152.3 L667.9 1152.2 L665.9 1152.2 L663.9 1152.2 L661.9 1152.2 L659.9 1152.1 L657.9 1152.1 L655.9 1152.1 L653.9 1152.1 L651.9 1152.0 L649.9 1152.0 L647.9 1152.0 L645.9 1151.9 L643.9 1151.9 L641.9 1151.9 L639.9 1151.9 L637.9 1151.8 L635.9 1151.8 L633.9 1151.8 L631.9 1151.8 L629.9 1151.7 L627.9 1151.7 L625.9 1151.7 L623.9 1151.7 L621.9 1151.7 L619.9 1151.7 L617.9 1151.6 L615.9 1151.6 L613.9 1151.6 L611.9 1151.6 L609.9 1151.6 L607.9 1151.6 L605.9 1151.6 L603.9 1151.6 L601.9 1151.6 L599.9 1151.6 L597.9 1151.6 L595.9 1151.6 L593.9 1151.6 L591.9 1151.6 L589.9 1151.6 L587.9 1151.6 L585.9 1151.6 L583.9 1151.6 L581.9 1151.6 L579.9 1151.6 L577.9 1151.6 L575.9 1151.6 L573.9 1151.6 L571.9 1151.6 L569.9 1151.6 L567.9 1151.6 L565.9 1151.6 L563.9 1151.6 L561.9 1151.6 L559.9 1151.7 L557.9 1151.7 L555.9 1151.7 L553.9 1151.7 L551.9 1151.7 L549.9 1151.7 L547.9 1151.7 L545.9 1151.7 L543.9 1151.8 L541.9 1151.8 L539.9 1151.8 L537.9 1151.8 L535.9 1151.8 L533.9 1151.8 L531.9 1151.8 L529.9 1151.9 L527.9 1151.9 L526.0 1151.9 L524.0 1151.9 L522.0 1151.9 L520.0 1151.9 L518.0 1151.9 L516.0 1152.0 L514.0 1152.0 L512.0 1152.0 L510.0 1152.0 L508.0 1152.0 L506.0 1152.0 L504.0 1152.0 L502.0 1152.1 L500.0 1152.1 L498.0 1152.1 L496.0 1152.1 L494.0 1152.1 L492.0 1152.1 L490.0 1152.1 L488.0 1152.2 L486.0 1152.2 L484.0 1152.2 L482.0 1152.2 L480.0 1152.2 L478.0 1152.2 L476.0 1152.2 L474.0 1152.2 L472.0 1152.2 L470.0 1152.3 L468.0 1152.3 L466.0 1152.3 L464.0 1152.3 L462.0 1152.3 L460.0 1152.3 L458.0 1152.3 L456.0 1152.3 L454.0 1152.3 L452.0 1152.3 L450.0 1152.3 L448.0 1152.3 L446.0 1152.3 L444.0 1152.3 L442.0 1152.3 L440.0 1152.3 L438.0 1152.4 L436.0 1152.4 L434.0 1152.4 L432.0 1152.4 L430.0 1152.4 L428.0 1152.4 L426.0 1152.4 L424.0 1152.4 L422.0 1152.4 L420.1 1152.4 L418.1 1152.4 L416.1 1152.4 L414.1 1152.4 L412.1 1152.4 L410.1 1152.4 L408.1 1152.4 L406.1 1152.4 L404.1 1152.4 L402.1 1152.4 L400.1 1152.4 L398.1 1152.4 L396.1 1152.4 L394.1 1152.4 L392.1 1152.4 L390.1 1152.4 L388.1 1152.4 L386.1 1152.4 L384.1 1152.4 L382.1 1152.4 L380.1 1152.4 L378.1 1152.4 L376.1 1152.4 L374.1 1152.4 L372.1 1152.4 L370.1 1152.4 L368.1 1152.4 L366.1 1152.4 L364.1 1152.4 L362.1 1152.4 L360.1 1152.4 L358.1 1152.4 L356.1 1152.4 L354.1 1152.4 L352.1 1152.3 L350.1 1152.3 L348.1 1152.3 L346.1 1152.3 L344.1 1152.3 L342.1 1152.3 L340.1 1152.3 L338.1 1152.3 L336.1 1152.3 L334.1 1152.3 L332.1 1152.3 L330.1 1152.3 L328.1 1152.3 L326.1 1152.3 L324.1 1152.3 L322.1 1152.3 L320.1 1152.3 L318.1 1152.3 L316.1 1152.3 L314.1 1152.3 L312.1 1152.3 L310.1 1152.3 L308.1 1152.3 L306.1 1152.3 L304.1 1152.3 L302.1 1152.3 L300.1 1152.3 L298.1 1152.3 L296.1 1152.3 L294.1 1152.3 L292.1 1152.3 L290.1 1152.3 L288.1 1152.3 L286.1 1152.3 L284.1 1152.3 L282.1 1152.3 L280.1 1152.3 L278.1 1152.3 L276.1 1152.3 L274.1 1152.3 L272.1 1152.3 L270.1 1152.3 L268.1 1152.3 L266.1 1152.3 L264.1 1152.3 L262.1 1152.3 L260.1 1152.3 L258.1 1152.3 L256.1 1152.3 L254.1 1152.3 L252.1 1152.3 L250.1 1152.3 L248.1 1152.3 L246.1 1152.3 L244.1 1152.3 L242.1 1152.3 L240.2 1152.3 L238.2 1152.3 L236.2 1152.3 L234.2 1152.3 L232.2 1152.3 L230.2 1152.3 L228.2 1152.3 L226.2 1152.3 L224.2 1152.3 L222.2 1152.3 L220.2 1152.3 L218.2 1152.3 L216.2 1152.3 L214.2 1152.4 L212.2 1152.4 L210.2 1152.4 L208.2 1152.4 L206.2 1152.4 L204.2 1152.4 L202.2 1152.4 L200.2 1152.4 L198.2 1152.4 L196.2 1152.4 L194.2 1152.4 L192.2 1152.5 L190.2 1152.5 L188.2 1152.5 L186.2 1152.5 L184.2 1152.5" fill="none" stroke="#00ff00" stroke-width="6.4" stroke-linecap="round" stroke-linejoin="round" clip-path="url(#pc)"/>
<circle cx="1661.4" cy="184.5" r="4.9" fill="#00ff00"/>
<path d="M231 160.3 H374" stroke="#ff0000" stroke-width="6.4" stroke-linecap="round"/>
<g transform="translate(392.0 0) scale(0.9820 1)"><text x="0" y="182.2" class="lg">CH<tspan class="sub" dy="17.5">3</tspan><tspan dy="-17.5">OH + </tspan><tspan font-style="italic">n</tspan>-Bu<tspan class="sub" dy="17.5">4</tspan><tspan dy="-17.5">NPF</tspan><tspan class="sub" dy="17.5">6</tspan><tspan dy="-17.5"> + 1a</tspan></text></g>
<path d="M231 255.2 H374" stroke="#0000ff" stroke-width="6.4" stroke-linecap="round"/>
<g transform="translate(392.0 0) scale(0.9820 1)"><text x="0" y="278.1" class="lg">CH<tspan class="sub" dy="17.5">3</tspan><tspan dy="-17.5">OH + </tspan><tspan font-style="italic">n</tspan>-Bu<tspan class="sub" dy="17.5">4</tspan><tspan dy="-17.5">NPF</tspan><tspan class="sub" dy="17.5">6</tspan><tspan dy="-17.5"> + 2a</tspan></text></g>
<path d="M231 350.9 H374" stroke="#00ff00" stroke-width="6.4" stroke-linecap="round"/>
<g transform="translate(392.0 0) scale(0.9820 1)"><text x="0" y="373.2" class="lg">CH<tspan class="sub" dy="17.5">3</tspan><tspan dy="-17.5">OH + </tspan><tspan font-style="italic">n</tspan>-Bu<tspan class="sub" dy="17.5">4</tspan><tspan dy="-17.5">NPF</tspan><tspan class="sub" dy="17.5">6</tspan><tspan dy="-17.5"> + 1a + 2a</tspan></text></g>
<text transform="translate(948.75 1484.8) scale(0.9717 1)" x="0" y="0" class="tt" style="font-size:66.5px" text-anchor="middle">Potential/V (vs Ag/AgCl)</text>
<text transform="translate(83.9 671.4) rotate(-90) scale(0.9747 1)" x="0" y="0" class="tt" text-anchor="middle">Current/mA</text>
</svg>
</body></html>
